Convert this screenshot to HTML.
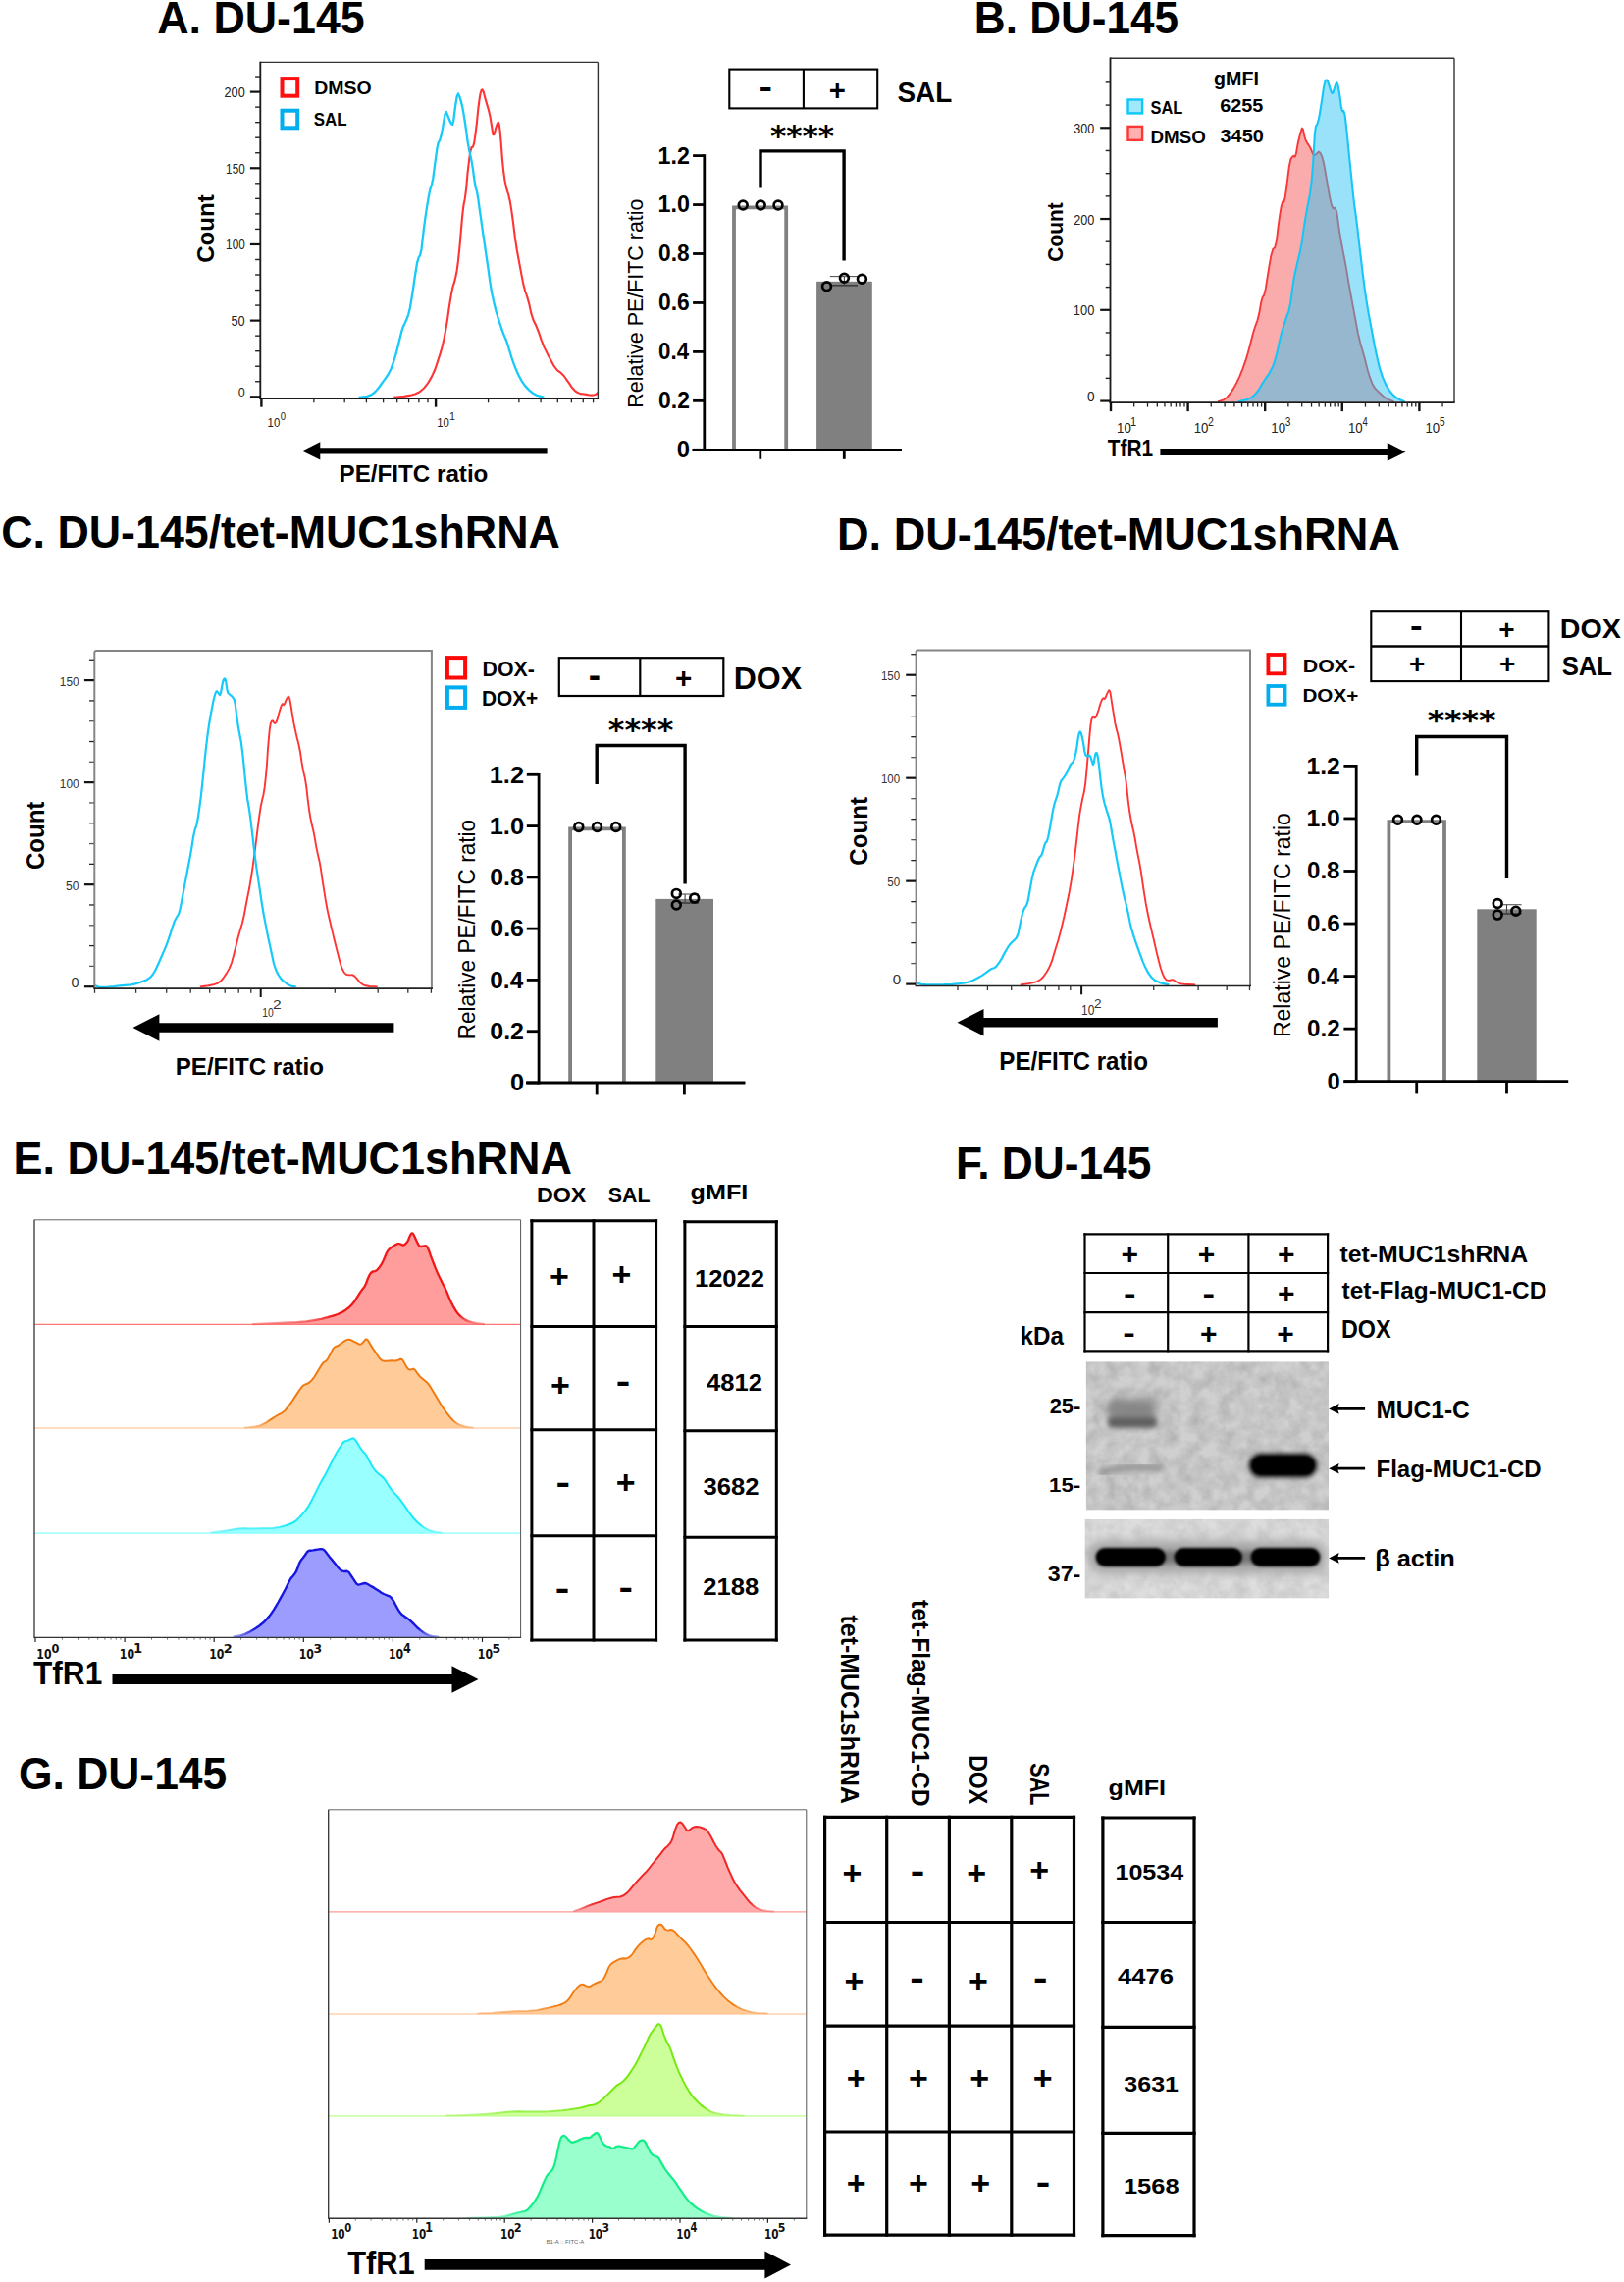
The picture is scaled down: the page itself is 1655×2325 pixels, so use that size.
<!DOCTYPE html>
<html><head><meta charset="utf-8"><title>Figure</title>
<style>html,body{margin:0;padding:0;background:#fff}svg{display:block}text{white-space:pre}</style></head>
<body><svg width="1655" height="2325" viewBox="0 0 1655 2325">
<rect width="1655" height="2325" fill="#fff"/>
<text transform="translate(160.18 33.90) scale(0.9624 1)" font-family='"Liberation Sans", sans-serif' font-weight="bold" font-size="46.55" fill="#000">A. DU-145</text>
<text transform="translate(992.83 33.90) scale(0.9467 1)" font-family='"Liberation Sans", sans-serif' font-weight="bold" font-size="46.55" fill="#000">B. DU-145</text>
<text transform="translate(1.21 557.50) scale(0.9803 1)" font-family='"Liberation Sans", sans-serif' font-weight="bold" font-size="45.67" fill="#000">C. DU-145/tet-MUC1shRNA</text>
<text transform="translate(853.06 560.10) scale(0.9876 1)" font-family='"Liberation Sans", sans-serif' font-weight="bold" font-size="45.67" fill="#000">D. DU-145/tet-MUC1shRNA</text>
<text transform="translate(13.57 1196.20) scale(0.9843 1)" font-family='"Liberation Sans", sans-serif' font-weight="bold" font-size="45.67" fill="#000">E. DU-145/tet-MUC1shRNA</text>
<text transform="translate(974.01 1201.20) scale(0.9575 1)" font-family='"Liberation Sans", sans-serif' font-weight="bold" font-size="46.25" fill="#000">F. DU-145</text>
<text transform="translate(18.92 1822.70) scale(0.9547 1)" font-family='"Liberation Sans", sans-serif' font-weight="bold" font-size="46.55" fill="#000">G. DU-145</text>
<path d="M401.3 404.9 L404.7 404.6 L411.5 403.9 L417.6 402.9 L423.0 401.5 L427.7 399.2 L431.8 395.8 L435.9 390.7 L439.9 383.9 L443.3 376.5 L446.0 368.3 L448.4 360.9 L450.4 354.1 L452.5 345.3 L454.5 334.5 L456.2 324.3 L457.5 314.8 L458.9 306.0 L460.3 297.9 L461.6 291.8 L463.0 287.7 L464.3 282.3 L465.7 275.5 L467.0 265.4 L468.4 251.8 L469.7 236.9 L471.1 220.7 L472.4 209.2 L473.8 202.4 L475.2 191.6 L476.5 176.7 L477.9 164.5 L479.2 155.0 L480.6 150.1 L481.9 149.8 L483.3 145.1 L484.6 135.9 L486.0 124.5 L487.3 111.0 L488.6 101.1 L489.6 95.0 L490.7 91.8 L491.6 91.4 L492.8 93.8 L494.1 98.9 L495.8 104.9 L497.8 111.6 L499.4 118.4 L500.5 125.2 L501.5 131.4 L502.4 137.1 L503.6 137.1 L505.0 131.4 L506.3 127.2 L507.7 124.5 L508.8 127.2 L509.8 135.3 L510.8 146.9 L511.9 161.8 L513.1 174.0 L514.4 183.4 L516.1 191.6 L518.2 198.3 L519.9 205.8 L521.2 213.9 L522.9 226.1 L524.9 242.4 L527.0 255.9 L529.0 266.7 L531.0 277.6 L533.1 288.4 L535.1 296.5 L537.1 302.0 L539.2 309.4 L541.2 318.9 L543.6 326.3 L546.3 331.8 L549.0 338.5 L551.7 346.7 L554.7 354.1 L558.1 360.9 L561.5 367.3 L564.9 373.4 L568.3 377.6 L571.7 379.9 L574.7 383.0 L577.4 386.8 L580.1 390.7 L582.8 394.8 L585.6 397.8 L588.3 399.8 L591.3 401.1 L594.7 401.5 L597.7 401.9 L600.5 402.5 L603.2 402.6 L605.9 402.3 L607.8 401.5 L608.9 400.2 L609.4 399.5" fill="none" stroke="#ff3434" stroke-width="2.1" stroke-linejoin="round" />
<path d="M365.6 404.9 L368.4 404.6 L374.1 403.9 L378.6 402.2 L382.0 399.5 L385.4 395.8 L388.8 391.0 L392.2 386.3 L395.6 381.5 L398.6 375.5 L401.3 368.0 L403.7 360.2 L405.7 352.1 L407.6 344.6 L409.2 337.9 L410.9 332.8 L412.6 329.4 L414.4 325.3 L416.2 320.6 L417.9 313.5 L419.5 304.0 L421.0 294.5 L422.3 285.0 L423.7 276.2 L425.0 268.1 L426.5 262.7 L428.1 260.0 L429.5 253.9 L430.6 244.4 L431.8 234.2 L433.2 223.4 L434.9 211.9 L436.9 199.7 L438.6 191.9 L439.9 188.5 L441.3 181.7 L442.6 171.6 L444.0 161.4 L445.4 151.3 L446.7 145.2 L448.1 143.1 L449.4 138.7 L450.8 132.0 L452.1 124.5 L453.5 116.4 L454.8 114.0 L456.2 117.4 L457.5 120.8 L458.9 124.2 L460.1 126.2 L461.2 126.9 L462.2 123.2 L463.2 115.0 L464.3 106.7 L465.7 98.2 L467.0 95.4 L468.4 98.6 L469.7 102.8 L471.1 108.2 L472.4 115.4 L473.8 124.2 L475.2 133.6 L476.5 143.8 L478.2 153.3 L480.2 162.1 L481.9 171.9 L483.3 182.8 L484.6 190.5 L486.0 195.3 L487.3 202.7 L488.7 212.9 L490.1 222.7 L491.4 232.2 L493.1 243.7 L495.1 257.3 L497.2 271.5 L499.2 286.4 L501.2 298.6 L503.3 308.1 L505.3 316.2 L507.3 323.0 L509.4 329.4 L511.4 335.5 L513.4 340.9 L515.5 345.7 L517.5 351.4 L519.5 358.2 L521.5 364.6 L523.6 370.7 L526.0 376.8 L528.7 382.9 L531.7 388.3 L535.1 393.1 L538.8 397.1 L542.9 400.5 L547.3 402.9 L552.0 404.2 L554.4 404.9" fill="none" stroke="#16cafa" stroke-width="2.3" stroke-linejoin="round" />
<line x1="265.30" y1="63.40" x2="609.40" y2="63.40" stroke="#333" stroke-width="1.4" stroke-linecap="butt"/>
<line x1="609.40" y1="63.40" x2="609.40" y2="406.10" stroke="#333" stroke-width="1.4" stroke-linecap="butt"/>
<line x1="265.30" y1="62.70" x2="265.30" y2="407.00" stroke="#1a1a1a" stroke-width="1.85" stroke-linecap="butt"/>
<line x1="264.40" y1="406.10" x2="610.10" y2="406.10" stroke="#1a1a1a" stroke-width="1.85" stroke-linecap="butt"/>
<line x1="254.90" y1="404.30" x2="265.30" y2="404.30" stroke="#111" stroke-width="2.2" stroke-linecap="butt"/>
<line x1="260.10" y1="388.76" x2="265.30" y2="388.76" stroke="#222" stroke-width="1.4" stroke-linecap="butt"/>
<line x1="260.10" y1="373.23" x2="265.30" y2="373.23" stroke="#222" stroke-width="1.4" stroke-linecap="butt"/>
<line x1="260.10" y1="357.69" x2="265.30" y2="357.69" stroke="#222" stroke-width="1.4" stroke-linecap="butt"/>
<line x1="260.10" y1="342.16" x2="265.30" y2="342.16" stroke="#222" stroke-width="1.4" stroke-linecap="butt"/>
<line x1="254.90" y1="326.62" x2="265.30" y2="326.62" stroke="#111" stroke-width="2.2" stroke-linecap="butt"/>
<line x1="260.10" y1="311.09" x2="265.30" y2="311.09" stroke="#222" stroke-width="1.4" stroke-linecap="butt"/>
<line x1="260.10" y1="295.56" x2="265.30" y2="295.56" stroke="#222" stroke-width="1.4" stroke-linecap="butt"/>
<line x1="260.10" y1="280.02" x2="265.30" y2="280.02" stroke="#222" stroke-width="1.4" stroke-linecap="butt"/>
<line x1="260.10" y1="264.49" x2="265.30" y2="264.49" stroke="#222" stroke-width="1.4" stroke-linecap="butt"/>
<line x1="254.90" y1="248.95" x2="265.30" y2="248.95" stroke="#111" stroke-width="2.2" stroke-linecap="butt"/>
<line x1="260.10" y1="233.42" x2="265.30" y2="233.42" stroke="#222" stroke-width="1.4" stroke-linecap="butt"/>
<line x1="260.10" y1="217.88" x2="265.30" y2="217.88" stroke="#222" stroke-width="1.4" stroke-linecap="butt"/>
<line x1="260.10" y1="202.34" x2="265.30" y2="202.34" stroke="#222" stroke-width="1.4" stroke-linecap="butt"/>
<line x1="260.10" y1="186.81" x2="265.30" y2="186.81" stroke="#222" stroke-width="1.4" stroke-linecap="butt"/>
<line x1="254.90" y1="171.28" x2="265.30" y2="171.28" stroke="#111" stroke-width="2.2" stroke-linecap="butt"/>
<line x1="260.10" y1="155.74" x2="265.30" y2="155.74" stroke="#222" stroke-width="1.4" stroke-linecap="butt"/>
<line x1="260.10" y1="140.20" x2="265.30" y2="140.20" stroke="#222" stroke-width="1.4" stroke-linecap="butt"/>
<line x1="260.10" y1="124.67" x2="265.30" y2="124.67" stroke="#222" stroke-width="1.4" stroke-linecap="butt"/>
<line x1="260.10" y1="109.13" x2="265.30" y2="109.13" stroke="#222" stroke-width="1.4" stroke-linecap="butt"/>
<line x1="254.90" y1="93.60" x2="265.30" y2="93.60" stroke="#111" stroke-width="2.2" stroke-linecap="butt"/>
<line x1="260.10" y1="78.06" x2="265.30" y2="78.06" stroke="#222" stroke-width="1.4" stroke-linecap="butt"/>
<text transform="translate(228.57 99.06) scale(0.8956 1)" font-family='"Liberation Sans", sans-serif' font-weight="normal" font-size="14.13" fill="#222">200</text>
<text transform="translate(230.12 176.73) scale(0.8281 1)" font-family='"Liberation Sans", sans-serif' font-weight="normal" font-size="14.13" fill="#222">150</text>
<text transform="translate(230.12 254.41) scale(0.8281 1)" font-family='"Liberation Sans", sans-serif' font-weight="normal" font-size="14.13" fill="#222">100</text>
<text transform="translate(235.49 332.08) scale(0.9045 1)" font-family='"Liberation Sans", sans-serif' font-weight="normal" font-size="14.13" fill="#222">50</text>
<text transform="translate(242.70 404.48) scale(1.0583 1)" font-family='"Liberation Sans", sans-serif' font-weight="normal" font-size="11.87" fill="#222">0</text>
<line x1="266.40" y1="406.10" x2="266.40" y2="414.70" stroke="#111" stroke-width="2.4" stroke-linecap="butt"/>
<line x1="319.89" y1="406.10" x2="319.89" y2="410.30" stroke="#222" stroke-width="1.3" stroke-linecap="butt"/>
<line x1="351.18" y1="406.10" x2="351.18" y2="410.30" stroke="#222" stroke-width="1.3" stroke-linecap="butt"/>
<line x1="373.39" y1="406.10" x2="373.39" y2="410.30" stroke="#222" stroke-width="1.3" stroke-linecap="butt"/>
<line x1="390.61" y1="406.10" x2="390.61" y2="410.30" stroke="#222" stroke-width="1.3" stroke-linecap="butt"/>
<line x1="404.68" y1="406.10" x2="404.68" y2="410.30" stroke="#222" stroke-width="1.3" stroke-linecap="butt"/>
<line x1="416.57" y1="406.10" x2="416.57" y2="410.30" stroke="#222" stroke-width="1.3" stroke-linecap="butt"/>
<line x1="426.88" y1="406.10" x2="426.88" y2="410.30" stroke="#222" stroke-width="1.3" stroke-linecap="butt"/>
<line x1="435.97" y1="406.10" x2="435.97" y2="410.30" stroke="#222" stroke-width="1.3" stroke-linecap="butt"/>
<line x1="444.10" y1="406.10" x2="444.10" y2="414.70" stroke="#111" stroke-width="2.4" stroke-linecap="butt"/>
<line x1="497.59" y1="406.10" x2="497.59" y2="410.30" stroke="#222" stroke-width="1.3" stroke-linecap="butt"/>
<line x1="528.88" y1="406.10" x2="528.88" y2="410.30" stroke="#222" stroke-width="1.3" stroke-linecap="butt"/>
<line x1="551.09" y1="406.10" x2="551.09" y2="410.30" stroke="#222" stroke-width="1.3" stroke-linecap="butt"/>
<line x1="568.31" y1="406.10" x2="568.31" y2="410.30" stroke="#222" stroke-width="1.3" stroke-linecap="butt"/>
<line x1="582.38" y1="406.10" x2="582.38" y2="410.30" stroke="#222" stroke-width="1.3" stroke-linecap="butt"/>
<line x1="594.27" y1="406.10" x2="594.27" y2="410.30" stroke="#222" stroke-width="1.3" stroke-linecap="butt"/>
<line x1="604.58" y1="406.10" x2="604.58" y2="410.30" stroke="#222" stroke-width="1.3" stroke-linecap="butt"/>
<text transform="translate(272.54 435.37) scale(0.8984 1)" font-family='"Liberation Sans", sans-serif' font-weight="normal" font-size="12.72" fill="#222">10</text>
<text transform="translate(285.81 428.09) scale(0.8968 1)" font-family='"Liberation Sans", sans-serif' font-weight="normal" font-size="10.74" fill="#222">0</text>
<text transform="translate(445.24 435.37) scale(0.8984 1)" font-family='"Liberation Sans", sans-serif' font-weight="normal" font-size="12.72" fill="#222">10</text>
<text transform="translate(458.10 428.20) scale(0.9621 1)" font-family='"Liberation Sans", sans-serif' font-weight="normal" font-size="11.05" fill="#222">1</text>
<path d="M557.6 456.2 L326.3 456.2 L326.3 450.2 L307.9 459.4 L326.3 468.6 L326.3 462.6 L557.6 462.6Z" fill="#000"/>
<text transform="translate(345.57 490.90) scale(0.9782 1)" font-family='"Liberation Sans", sans-serif' font-weight="bold" font-size="24.73" fill="#000">PE/FITC ratio</text>
<text transform="translate(218.27 267.76) rotate(-90) scale(1.0330 1)" font-family='"Liberation Sans", sans-serif' font-weight="bold" font-size="23.32" fill="#000">Count</text>
<rect x="287.50" y="80.10" width="15.70" height="17.60" fill="none" stroke="#ff1010" stroke-width="4" />
<rect x="287.50" y="112.70" width="15.70" height="17.60" fill="none" stroke="#00adef" stroke-width="4" />
<text transform="translate(320.29 96.41) scale(1.0134 1)" font-family='"Liberation Sans", sans-serif' font-weight="bold" font-size="19.22" fill="#000">DMSO</text>
<text transform="translate(319.79 127.91) scale(0.9021 1)" font-family='"Liberation Sans", sans-serif' font-weight="bold" font-size="18.80" fill="#000">SAL</text>
<path d="M748.00 458.30 V211.40 H801.20 V458.30" fill="#fff" stroke="#808080" stroke-width="3.8"/>
<rect x="832.10" y="286.80" width="56.70" height="171.50" fill="#808080" stroke="none" stroke-width="1" />
<line x1="845.90" y1="281.60" x2="874.00" y2="281.60" stroke="#555" stroke-width="1.1" stroke-linecap="butt"/>
<line x1="845.90" y1="290.80" x2="874.00" y2="290.80" stroke="#333" stroke-width="1.4" stroke-linecap="butt"/>
<line x1="860.40" y1="281.60" x2="860.40" y2="290.80" stroke="#444" stroke-width="1.1" stroke-linecap="butt"/>
<line x1="717.80" y1="157.20" x2="717.80" y2="459.70" stroke="#000" stroke-width="2.8" stroke-linecap="butt"/>
<line x1="705.40" y1="458.30" x2="919.00" y2="458.30" stroke="#000" stroke-width="2.8" stroke-linecap="butt"/>
<line x1="706.10" y1="458.30" x2="717.80" y2="458.30" stroke="#000" stroke-width="2.8" stroke-linecap="butt"/>
<text transform="translate(689.75 466.22) scale(1.0326 1)" font-family='"Liberation Sans", sans-serif' font-weight="bold" font-size="23.04" fill="#000">0</text>
<line x1="706.10" y1="408.35" x2="717.80" y2="408.35" stroke="#000" stroke-width="2.8" stroke-linecap="butt"/>
<text transform="translate(671.09 416.27) scale(0.9921 1)" font-family='"Liberation Sans", sans-serif' font-weight="bold" font-size="23.04" fill="#000">0.2</text>
<line x1="706.10" y1="358.40" x2="717.80" y2="358.40" stroke="#000" stroke-width="2.8" stroke-linecap="butt"/>
<text transform="translate(671.11 366.32) scale(0.9681 1)" font-family='"Liberation Sans", sans-serif' font-weight="bold" font-size="23.04" fill="#000">0.4</text>
<line x1="706.10" y1="308.45" x2="717.80" y2="308.45" stroke="#000" stroke-width="2.8" stroke-linecap="butt"/>
<text transform="translate(671.09 316.37) scale(0.9902 1)" font-family='"Liberation Sans", sans-serif' font-weight="bold" font-size="23.04" fill="#000">0.6</text>
<line x1="706.10" y1="258.50" x2="717.80" y2="258.50" stroke="#000" stroke-width="2.8" stroke-linecap="butt"/>
<text transform="translate(671.09 266.42) scale(0.9865 1)" font-family='"Liberation Sans", sans-serif' font-weight="bold" font-size="23.04" fill="#000">0.8</text>
<line x1="706.10" y1="208.55" x2="717.80" y2="208.55" stroke="#000" stroke-width="2.8" stroke-linecap="butt"/>
<text transform="translate(670.54 216.47) scale(1.0114 1)" font-family='"Liberation Sans", sans-serif' font-weight="bold" font-size="23.04" fill="#000">1.0</text>
<line x1="706.10" y1="158.60" x2="717.80" y2="158.60" stroke="#000" stroke-width="2.8" stroke-linecap="butt"/>
<text transform="translate(670.55 166.75) scale(0.9951 1)" font-family='"Liberation Sans", sans-serif' font-weight="bold" font-size="23.37" fill="#000">1.2</text>
<line x1="774.80" y1="458.30" x2="774.80" y2="467.80" stroke="#000" stroke-width="2.8" stroke-linecap="butt"/>
<line x1="860.30" y1="458.30" x2="860.30" y2="467.80" stroke="#000" stroke-width="2.8" stroke-linecap="butt"/>
<path d="M775.00 191.60 V153.90 H860.10 V265.50" fill="none" stroke="#000" stroke-width="3.4" stroke-linejoin="miter"/>
<circle cx="757.20" cy="209.00" r="4.4" fill="none" stroke="#000" stroke-width="2.7"/>
<circle cx="775.20" cy="209.00" r="4.4" fill="none" stroke="#000" stroke-width="2.7"/>
<circle cx="793.00" cy="209.00" r="4.4" fill="none" stroke="#000" stroke-width="2.7"/>
<circle cx="842.50" cy="291.80" r="4.4" fill="none" stroke="#000" stroke-width="2.7"/>
<circle cx="860.40" cy="283.20" r="4.4" fill="none" stroke="#000" stroke-width="2.7"/>
<circle cx="878.40" cy="284.20" r="4.4" fill="none" stroke="#000" stroke-width="2.7"/>
<text transform="translate(784.88 148.97) scale(1.0227 1)" font-family='"DejaVu Sans", sans-serif' font-weight="bold" font-size="30.54" fill="#000">****</text>
<text transform="translate(655.37 415.67) rotate(-90) scale(0.9322 1)" font-family='"Liberation Sans", sans-serif' font-weight="normal" font-size="22.99" fill="#000">Relative PE/FITC ratio</text>
<rect x="743.30" y="70.60" width="150.90" height="39.80" fill="none" stroke="#000" stroke-width="2.1" />
<line x1="818.90" y1="70.60" x2="818.90" y2="110.40" stroke="#000" stroke-width="2.1" stroke-linecap="butt"/>
<text transform="translate(773.58 99.67) scale(1.2119 1)" font-family='"Liberation Sans", sans-serif' font-weight="bold" font-size="33.33" fill="#000">-</text>
<text transform="translate(844.76 102.32) scale(1.0200 1)" font-family='"Liberation Sans", sans-serif' font-weight="bold" font-size="28.63" fill="#000">+</text>
<text transform="translate(914.46 104.00) scale(0.9177 1)" font-family='"Liberation Sans", sans-serif' font-weight="bold" font-size="30.39" fill="#000">SAL</text>
<path d="M1241.0 409.2 L1243.0 408.6 L1247.0 407.3 L1250.6 404.7 L1253.8 400.7 L1257.0 395.9 L1260.2 390.2 L1263.4 383.4 L1266.6 375.4 L1269.4 367.4 L1271.8 359.4 L1274.2 350.6 L1276.6 341.0 L1279.0 333.0 L1281.4 326.6 L1283.4 318.6 L1285.0 309.0 L1286.6 303.0 L1288.2 300.6 L1289.8 294.2 L1291.4 283.8 L1293.2 272.6 L1295.3 260.6 L1297.3 253.8 L1299.2 252.2 L1301.0 244.6 L1302.6 230.9 L1304.2 219.3 L1305.8 209.7 L1307.2 205.3 L1308.3 206.1 L1309.5 202.1 L1310.8 193.3 L1312.2 182.5 L1313.8 169.7 L1315.4 162.1 L1317.0 159.7 L1318.5 158.9 L1319.7 159.7 L1320.9 156.5 L1322.1 149.3 L1323.3 143.3 L1324.5 138.5 L1325.7 134.2 L1326.9 130.6 L1328.0 131.8 L1329.1 137.8 L1330.3 142.1 L1331.6 144.5 L1333.0 146.9 L1334.6 149.3 L1336.2 152.5 L1337.8 156.5 L1339.4 158.1 L1341.0 157.3 L1342.5 156.1 L1343.8 154.5 L1345.4 155.7 L1347.3 159.7 L1349.0 166.1 L1350.6 174.9 L1352.2 184.1 L1353.8 193.7 L1355.4 202.1 L1357.0 209.3 L1358.8 212.5 L1360.7 211.7 L1362.3 216.1 L1363.6 225.7 L1365.0 235.4 L1366.6 245.0 L1368.4 254.6 L1370.3 264.2 L1372.3 275.4 L1374.4 288.2 L1376.7 301.0 L1379.1 313.8 L1381.5 326.6 L1383.9 339.4 L1386.3 349.8 L1388.7 357.8 L1391.1 366.6 L1393.5 376.2 L1395.9 384.2 L1398.3 390.7 L1401.1 395.5 L1404.3 398.7 L1407.5 401.7 L1410.7 404.6 L1414.3 406.8 L1418.3 408.4 L1420.3 409.2Z" fill="#f23a3a" stroke="none" stroke-width="1" stroke-linejoin="round" fill-opacity="0.42"/>
<path d="M1241.0 409.2 L1243.0 408.6 L1247.0 407.3 L1250.6 404.7 L1253.8 400.7 L1257.0 395.9 L1260.2 390.2 L1263.4 383.4 L1266.6 375.4 L1269.4 367.4 L1271.8 359.4 L1274.2 350.6 L1276.6 341.0 L1279.0 333.0 L1281.4 326.6 L1283.4 318.6 L1285.0 309.0 L1286.6 303.0 L1288.2 300.6 L1289.8 294.2 L1291.4 283.8 L1293.2 272.6 L1295.3 260.6 L1297.3 253.8 L1299.2 252.2 L1301.0 244.6 L1302.6 230.9 L1304.2 219.3 L1305.8 209.7 L1307.2 205.3 L1308.3 206.1 L1309.5 202.1 L1310.8 193.3 L1312.2 182.5 L1313.8 169.7 L1315.4 162.1 L1317.0 159.7 L1318.5 158.9 L1319.7 159.7 L1320.9 156.5 L1322.1 149.3 L1323.3 143.3 L1324.5 138.5 L1325.7 134.2 L1326.9 130.6 L1328.0 131.8 L1329.1 137.8 L1330.3 142.1 L1331.6 144.5 L1333.0 146.9 L1334.6 149.3 L1336.2 152.5 L1337.8 156.5 L1339.4 158.1 L1341.0 157.3 L1342.5 156.1 L1343.8 154.5 L1345.4 155.7 L1347.3 159.7 L1349.0 166.1 L1350.6 174.9 L1352.2 184.1 L1353.8 193.7 L1355.4 202.1 L1357.0 209.3 L1358.8 212.5 L1360.7 211.7 L1362.3 216.1 L1363.6 225.7 L1365.0 235.4 L1366.6 245.0 L1368.4 254.6 L1370.3 264.2 L1372.3 275.4 L1374.4 288.2 L1376.7 301.0 L1379.1 313.8 L1381.5 326.6 L1383.9 339.4 L1386.3 349.8 L1388.7 357.8 L1391.1 366.6 L1393.5 376.2 L1395.9 384.2 L1398.3 390.7 L1401.1 395.5 L1404.3 398.7 L1407.5 401.7 L1410.7 404.6 L1414.3 406.8 L1418.3 408.4 L1420.3 409.2" fill="none" stroke="#f83838" stroke-width="1.9" stroke-linejoin="round" />
<path d="M1261.8 409.2 L1264.6 408.6 L1270.2 407.3 L1275.0 405.1 L1279.0 401.9 L1282.6 397.5 L1285.8 391.9 L1289.4 386.2 L1293.4 380.6 L1296.6 374.6 L1299.0 368.2 L1301.4 359.4 L1303.8 348.2 L1306.2 338.6 L1308.6 330.6 L1311.0 323.4 L1313.4 317.0 L1315.4 307.4 L1317.0 294.6 L1318.6 284.2 L1320.2 276.2 L1322.2 267.4 L1324.6 257.8 L1326.6 247.4 L1328.2 236.2 L1329.8 225.7 L1331.4 216.1 L1333.2 206.5 L1335.1 196.9 L1336.7 184.1 L1338.0 168.1 L1339.0 152.5 L1339.8 137.3 L1341.0 128.5 L1342.6 126.1 L1344.2 120.1 L1345.8 110.5 L1347.4 100.1 L1349.0 88.9 L1350.5 82.6 L1351.8 81.3 L1353.1 82.9 L1354.6 87.4 L1355.9 91.4 L1357.2 94.9 L1358.5 94.5 L1359.8 90.2 L1361.0 86.7 L1362.1 84.0 L1363.3 86.0 L1364.6 92.7 L1365.8 100.5 L1366.9 109.3 L1368.1 113.4 L1369.4 113.0 L1370.6 117.4 L1371.7 126.6 L1372.8 136.9 L1373.9 148.1 L1375.1 160.1 L1376.4 172.9 L1377.7 185.7 L1379.0 198.5 L1380.4 210.5 L1382.0 221.7 L1383.6 234.6 L1385.2 249.0 L1387.0 264.2 L1388.9 280.2 L1390.8 294.6 L1392.7 307.4 L1394.7 319.4 L1396.8 330.6 L1398.9 341.8 L1401.0 353.0 L1403.4 364.2 L1406.1 375.4 L1409.1 384.6 L1412.3 391.9 L1415.9 397.9 L1419.9 402.7 L1424.3 406.1 L1429.1 408.2 L1431.5 409.2Z" fill="#2cc3f2" stroke="none" stroke-width="1" stroke-linejoin="round" fill-opacity="0.48"/>
<path d="M1261.8 409.2 L1264.6 408.6 L1270.2 407.3 L1275.0 405.1 L1279.0 401.9 L1282.6 397.5 L1285.8 391.9 L1289.4 386.2 L1293.4 380.6 L1296.6 374.6 L1299.0 368.2 L1301.4 359.4 L1303.8 348.2 L1306.2 338.6 L1308.6 330.6 L1311.0 323.4 L1313.4 317.0 L1315.4 307.4 L1317.0 294.6 L1318.6 284.2 L1320.2 276.2 L1322.2 267.4 L1324.6 257.8 L1326.6 247.4 L1328.2 236.2 L1329.8 225.7 L1331.4 216.1 L1333.2 206.5 L1335.1 196.9 L1336.7 184.1 L1338.0 168.1 L1339.0 152.5 L1339.8 137.3 L1341.0 128.5 L1342.6 126.1 L1344.2 120.1 L1345.8 110.5 L1347.4 100.1 L1349.0 88.9 L1350.5 82.6 L1351.8 81.3 L1353.1 82.9 L1354.6 87.4 L1355.9 91.4 L1357.2 94.9 L1358.5 94.5 L1359.8 90.2 L1361.0 86.7 L1362.1 84.0 L1363.3 86.0 L1364.6 92.7 L1365.8 100.5 L1366.9 109.3 L1368.1 113.4 L1369.4 113.0 L1370.6 117.4 L1371.7 126.6 L1372.8 136.9 L1373.9 148.1 L1375.1 160.1 L1376.4 172.9 L1377.7 185.7 L1379.0 198.5 L1380.4 210.5 L1382.0 221.7 L1383.6 234.6 L1385.2 249.0 L1387.0 264.2 L1388.9 280.2 L1390.8 294.6 L1392.7 307.4 L1394.7 319.4 L1396.8 330.6 L1398.9 341.8 L1401.0 353.0 L1403.4 364.2 L1406.1 375.4 L1409.1 384.6 L1412.3 391.9 L1415.9 397.9 L1419.9 402.7 L1424.3 406.1 L1429.1 408.2 L1431.5 409.2" fill="none" stroke="#16c6f8" stroke-width="2.1" stroke-linejoin="round" />
<line x1="1131.50" y1="59.20" x2="1482.00" y2="59.20" stroke="#333" stroke-width="1.4" stroke-linecap="butt"/>
<line x1="1482.00" y1="59.20" x2="1482.00" y2="410.10" stroke="#333" stroke-width="1.4" stroke-linecap="butt"/>
<line x1="1131.50" y1="58.50" x2="1131.50" y2="411.00" stroke="#1a1a1a" stroke-width="1.85" stroke-linecap="butt"/>
<line x1="1130.60" y1="410.10" x2="1482.70" y2="410.10" stroke="#1a1a1a" stroke-width="1.85" stroke-linecap="butt"/>
<line x1="1121.20" y1="408.55" x2="1131.50" y2="408.55" stroke="#111" stroke-width="2.2" stroke-linecap="butt"/>
<line x1="1126.70" y1="385.36" x2="1131.50" y2="385.36" stroke="#222" stroke-width="1.4" stroke-linecap="butt"/>
<line x1="1126.70" y1="362.17" x2="1131.50" y2="362.17" stroke="#222" stroke-width="1.4" stroke-linecap="butt"/>
<line x1="1126.70" y1="338.98" x2="1131.50" y2="338.98" stroke="#222" stroke-width="1.4" stroke-linecap="butt"/>
<line x1="1121.20" y1="315.79" x2="1131.50" y2="315.79" stroke="#111" stroke-width="2.2" stroke-linecap="butt"/>
<line x1="1126.70" y1="292.60" x2="1131.50" y2="292.60" stroke="#222" stroke-width="1.4" stroke-linecap="butt"/>
<line x1="1126.70" y1="269.41" x2="1131.50" y2="269.41" stroke="#222" stroke-width="1.4" stroke-linecap="butt"/>
<line x1="1126.70" y1="246.22" x2="1131.50" y2="246.22" stroke="#222" stroke-width="1.4" stroke-linecap="butt"/>
<line x1="1121.20" y1="223.03" x2="1131.50" y2="223.03" stroke="#111" stroke-width="2.2" stroke-linecap="butt"/>
<line x1="1126.70" y1="199.84" x2="1131.50" y2="199.84" stroke="#222" stroke-width="1.4" stroke-linecap="butt"/>
<line x1="1126.70" y1="176.65" x2="1131.50" y2="176.65" stroke="#222" stroke-width="1.4" stroke-linecap="butt"/>
<line x1="1126.70" y1="153.46" x2="1131.50" y2="153.46" stroke="#222" stroke-width="1.4" stroke-linecap="butt"/>
<line x1="1121.20" y1="130.27" x2="1131.50" y2="130.27" stroke="#111" stroke-width="2.2" stroke-linecap="butt"/>
<line x1="1126.70" y1="107.08" x2="1131.50" y2="107.08" stroke="#222" stroke-width="1.4" stroke-linecap="butt"/>
<line x1="1126.70" y1="83.89" x2="1131.50" y2="83.89" stroke="#222" stroke-width="1.4" stroke-linecap="butt"/>
<text transform="translate(1094.33 135.93) scale(0.8797 1)" font-family='"Liberation Sans", sans-serif' font-weight="normal" font-size="14.28" fill="#222">300</text>
<text transform="translate(1094.17 228.69) scale(0.8867 1)" font-family='"Liberation Sans", sans-serif' font-weight="normal" font-size="14.28" fill="#222">200</text>
<text transform="translate(1093.84 321.45) scale(0.9010 1)" font-family='"Liberation Sans", sans-serif' font-weight="normal" font-size="14.28" fill="#222">100</text>
<text transform="translate(1107.96 408.55) scale(0.9350 1)" font-family='"Liberation Sans", sans-serif' font-weight="normal" font-size="14.56" fill="#222">0</text>
<line x1="1132.00" y1="410.10" x2="1132.00" y2="419.10" stroke="#111" stroke-width="2.4" stroke-linecap="butt"/>
<line x1="1155.66" y1="410.10" x2="1155.66" y2="414.60" stroke="#222" stroke-width="1.3" stroke-linecap="butt"/>
<line x1="1169.50" y1="410.10" x2="1169.50" y2="414.60" stroke="#222" stroke-width="1.3" stroke-linecap="butt"/>
<line x1="1179.32" y1="410.10" x2="1179.32" y2="414.60" stroke="#222" stroke-width="1.3" stroke-linecap="butt"/>
<line x1="1186.94" y1="410.10" x2="1186.94" y2="414.60" stroke="#222" stroke-width="1.3" stroke-linecap="butt"/>
<line x1="1193.16" y1="410.10" x2="1193.16" y2="414.60" stroke="#222" stroke-width="1.3" stroke-linecap="butt"/>
<line x1="1198.42" y1="410.10" x2="1198.42" y2="414.60" stroke="#222" stroke-width="1.3" stroke-linecap="butt"/>
<line x1="1202.98" y1="410.10" x2="1202.98" y2="414.60" stroke="#222" stroke-width="1.3" stroke-linecap="butt"/>
<line x1="1207.00" y1="410.10" x2="1207.00" y2="414.60" stroke="#222" stroke-width="1.3" stroke-linecap="butt"/>
<line x1="1210.60" y1="410.10" x2="1210.60" y2="419.10" stroke="#111" stroke-width="2.4" stroke-linecap="butt"/>
<line x1="1234.26" y1="410.10" x2="1234.26" y2="414.60" stroke="#222" stroke-width="1.3" stroke-linecap="butt"/>
<line x1="1248.10" y1="410.10" x2="1248.10" y2="414.60" stroke="#222" stroke-width="1.3" stroke-linecap="butt"/>
<line x1="1257.92" y1="410.10" x2="1257.92" y2="414.60" stroke="#222" stroke-width="1.3" stroke-linecap="butt"/>
<line x1="1265.54" y1="410.10" x2="1265.54" y2="414.60" stroke="#222" stroke-width="1.3" stroke-linecap="butt"/>
<line x1="1271.76" y1="410.10" x2="1271.76" y2="414.60" stroke="#222" stroke-width="1.3" stroke-linecap="butt"/>
<line x1="1277.02" y1="410.10" x2="1277.02" y2="414.60" stroke="#222" stroke-width="1.3" stroke-linecap="butt"/>
<line x1="1281.58" y1="410.10" x2="1281.58" y2="414.60" stroke="#222" stroke-width="1.3" stroke-linecap="butt"/>
<line x1="1285.60" y1="410.10" x2="1285.60" y2="414.60" stroke="#222" stroke-width="1.3" stroke-linecap="butt"/>
<line x1="1289.20" y1="410.10" x2="1289.20" y2="419.10" stroke="#111" stroke-width="2.4" stroke-linecap="butt"/>
<line x1="1312.86" y1="410.10" x2="1312.86" y2="414.60" stroke="#222" stroke-width="1.3" stroke-linecap="butt"/>
<line x1="1326.70" y1="410.10" x2="1326.70" y2="414.60" stroke="#222" stroke-width="1.3" stroke-linecap="butt"/>
<line x1="1336.52" y1="410.10" x2="1336.52" y2="414.60" stroke="#222" stroke-width="1.3" stroke-linecap="butt"/>
<line x1="1344.14" y1="410.10" x2="1344.14" y2="414.60" stroke="#222" stroke-width="1.3" stroke-linecap="butt"/>
<line x1="1350.36" y1="410.10" x2="1350.36" y2="414.60" stroke="#222" stroke-width="1.3" stroke-linecap="butt"/>
<line x1="1355.62" y1="410.10" x2="1355.62" y2="414.60" stroke="#222" stroke-width="1.3" stroke-linecap="butt"/>
<line x1="1360.18" y1="410.10" x2="1360.18" y2="414.60" stroke="#222" stroke-width="1.3" stroke-linecap="butt"/>
<line x1="1364.20" y1="410.10" x2="1364.20" y2="414.60" stroke="#222" stroke-width="1.3" stroke-linecap="butt"/>
<line x1="1367.80" y1="410.10" x2="1367.80" y2="419.10" stroke="#111" stroke-width="2.4" stroke-linecap="butt"/>
<line x1="1391.46" y1="410.10" x2="1391.46" y2="414.60" stroke="#222" stroke-width="1.3" stroke-linecap="butt"/>
<line x1="1405.30" y1="410.10" x2="1405.30" y2="414.60" stroke="#222" stroke-width="1.3" stroke-linecap="butt"/>
<line x1="1415.12" y1="410.10" x2="1415.12" y2="414.60" stroke="#222" stroke-width="1.3" stroke-linecap="butt"/>
<line x1="1422.74" y1="410.10" x2="1422.74" y2="414.60" stroke="#222" stroke-width="1.3" stroke-linecap="butt"/>
<line x1="1428.96" y1="410.10" x2="1428.96" y2="414.60" stroke="#222" stroke-width="1.3" stroke-linecap="butt"/>
<line x1="1434.22" y1="410.10" x2="1434.22" y2="414.60" stroke="#222" stroke-width="1.3" stroke-linecap="butt"/>
<line x1="1438.78" y1="410.10" x2="1438.78" y2="414.60" stroke="#222" stroke-width="1.3" stroke-linecap="butt"/>
<line x1="1442.80" y1="410.10" x2="1442.80" y2="414.60" stroke="#222" stroke-width="1.3" stroke-linecap="butt"/>
<line x1="1446.40" y1="410.10" x2="1446.40" y2="419.10" stroke="#111" stroke-width="2.4" stroke-linecap="butt"/>
<line x1="1470.06" y1="410.10" x2="1470.06" y2="414.60" stroke="#222" stroke-width="1.3" stroke-linecap="butt"/>
<text transform="translate(1138.11 441.06) scale(0.9179 1)" font-family='"Liberation Sans", sans-serif' font-weight="normal" font-size="14.42" fill="#222">10</text>
<text transform="translate(1152.07 433.90) scale(0.8770 1)" font-family='"Liberation Sans", sans-serif' font-weight="normal" font-size="12.65" fill="#222">1</text>
<text transform="translate(1216.71 441.06) scale(0.9179 1)" font-family='"Liberation Sans", sans-serif' font-weight="normal" font-size="14.42" fill="#222">10</text>
<text transform="translate(1230.97 433.90) scale(0.8458 1)" font-family='"Liberation Sans", sans-serif' font-weight="normal" font-size="12.47" fill="#222">2</text>
<text transform="translate(1295.31 441.06) scale(0.9179 1)" font-family='"Liberation Sans", sans-serif' font-weight="normal" font-size="14.42" fill="#222">10</text>
<text transform="translate(1309.72 433.78) scale(0.8218 1)" font-family='"Liberation Sans", sans-serif' font-weight="normal" font-size="12.30" fill="#222">3</text>
<text transform="translate(1373.91 441.06) scale(0.9179 1)" font-family='"Liberation Sans", sans-serif' font-weight="normal" font-size="14.42" fill="#222">10</text>
<text transform="translate(1388.49 433.90) scale(0.7511 1)" font-family='"Liberation Sans", sans-serif' font-weight="normal" font-size="12.65" fill="#222">4</text>
<text transform="translate(1452.51 441.06) scale(0.9179 1)" font-family='"Liberation Sans", sans-serif' font-weight="normal" font-size="14.42" fill="#222">10</text>
<text transform="translate(1466.90 433.78) scale(0.8102 1)" font-family='"Liberation Sans", sans-serif' font-weight="normal" font-size="12.47" fill="#222">5</text>
<text transform="translate(1128.79 465.00) scale(0.8564 1)" font-family='"Liberation Sans", sans-serif' font-weight="bold" font-size="24.29" fill="#000">TfR1</text>
<path d="M1182.4 456.9 L1413.8 456.9 L1413.8 451.1 L1432.4 460.4 L1413.8 469.7 L1413.8 463.9 L1182.4 463.9Z" fill="#000"/>
<text transform="translate(1082.77 266.64) rotate(-90) scale(0.9249 1)" font-family='"Liberation Sans", sans-serif' font-weight="bold" font-size="22.61" fill="#000">Count</text>
<text transform="translate(1237.01 86.50) scale(0.9334 1)" font-family='"Liberation Sans", sans-serif' font-weight="bold" font-size="21.09" fill="#000">gMFI</text>
<rect x="1149.50" y="101.50" width="14.60" height="13.90" fill="#a0e8fc" stroke="#0ac8fa" stroke-width="2.4" />
<rect x="1149.50" y="128.90" width="14.60" height="13.90" fill="#ffb0b0" stroke="#ff3636" stroke-width="2.4" />
<text transform="translate(1172.51 115.81) scale(0.8590 1)" font-family='"Liberation Sans", sans-serif' font-weight="bold" font-size="19.08" fill="#000">SAL</text>
<text transform="translate(1243.26 114.42) scale(1.0939 1)" font-family='"Liberation Sans", sans-serif' font-weight="bold" font-size="18.09" fill="#000">6255</text>
<text transform="translate(1172.43 146.11)" font-family='"Liberation Sans", sans-serif' font-weight="bold" font-size="18.80" fill="#000">DMSO</text>
<text transform="translate(1243.55 145.48) scale(1.1129 1)" font-family='"Liberation Sans", sans-serif' font-weight="bold" font-size="17.89" fill="#000">3450</text>
<path d="M203.9 1005.4 L206.8 1005.0 L212.4 1004.3 L217.4 1003.3 L221.6 1001.9 L225.2 999.4 L228.0 995.8 L230.9 991.6 L233.7 986.6 L236.2 980.3 L238.3 972.5 L240.4 964.3 L242.5 955.8 L244.7 948.0 L246.8 941.0 L248.8 932.5 L250.6 922.5 L252.4 913.3 L254.1 904.8 L255.8 894.9 L257.5 883.6 L259.0 872.3 L260.5 860.9 L261.9 849.6 L263.3 838.3 L264.6 829.1 L265.7 822.0 L267.0 815.6 L268.4 810.0 L269.7 802.2 L270.8 792.2 L271.9 780.2 L272.8 766.0 L273.8 753.7 L274.8 743.0 L275.9 736.7 L277.0 734.5 L278.2 734.5 L279.3 736.7 L280.4 737.0 L281.6 735.6 L282.8 732.4 L284.0 727.5 L285.4 722.9 L286.8 718.6 L288.0 717.0 L289.0 718.2 L290.1 717.1 L291.2 713.9 L292.5 711.3 L293.9 709.5 L295.2 711.6 L296.3 717.7 L297.3 723.9 L298.3 730.3 L299.5 737.0 L301.0 744.1 L302.6 751.2 L304.4 758.3 L306.1 766.8 L307.5 776.7 L309.0 785.2 L310.7 792.2 L312.3 802.2 L313.7 814.9 L315.1 825.5 L316.5 834.0 L318.0 841.1 L319.4 846.8 L320.8 853.9 L322.2 862.4 L323.8 870.1 L325.5 877.2 L327.0 885.7 L328.4 895.6 L330.1 906.3 L331.9 917.6 L333.7 927.5 L335.6 936.0 L337.4 943.8 L339.1 950.9 L341.0 958.7 L343.1 967.2 L345.1 974.9 L346.9 982.0 L348.8 987.3 L350.8 990.9 L352.9 992.9 L355.2 993.3 L357.3 993.4 L359.3 993.3 L361.2 994.3 L363.1 996.4 L365.0 998.7 L367.2 1001.3 L369.6 1003.1 L372.5 1004.3 L376.6 1005.0 L382.0 1005.3 L384.7 1005.4" fill="none" stroke="#ff3434" stroke-width="1.9" stroke-linejoin="round" />
<path d="M96.3 1004.0 L97.7 1004.5 L100.6 1005.5 L104.8 1005.8 L110.5 1005.5 L116.1 1005.0 L121.8 1004.3 L127.5 1003.8 L133.1 1003.3 L138.1 1002.4 L142.3 1001.0 L146.2 999.6 L149.8 998.2 L153.0 995.9 L155.8 992.8 L158.6 988.0 L161.5 981.7 L164.3 975.3 L167.1 968.9 L169.6 962.9 L171.7 957.2 L173.8 950.9 L176.0 943.8 L177.7 938.8 L179.2 936.0 L180.6 933.5 L182.0 931.4 L183.4 926.8 L184.8 919.7 L186.2 912.3 L187.7 904.5 L189.1 897.1 L190.5 890.0 L192.1 881.5 L194.0 871.6 L195.6 862.0 L197.0 852.8 L198.6 845.7 L200.3 840.8 L201.8 833.3 L203.2 823.4 L204.7 812.1 L206.1 799.3 L207.5 785.9 L208.9 771.7 L210.3 759.0 L211.7 747.6 L213.1 737.7 L214.6 729.2 L216.0 721.4 L217.4 714.4 L218.7 709.0 L219.8 705.5 L220.9 704.2 L221.9 705.2 L222.9 706.5 L224.1 708.1 L225.1 705.8 L226.1 699.7 L227.0 695.2 L227.9 692.4 L228.7 691.3 L229.6 692.0 L230.4 695.6 L231.3 702.0 L232.2 705.7 L233.2 706.8 L234.4 707.9 L235.8 708.9 L237.2 710.5 L238.6 712.6 L239.8 717.9 L240.8 726.4 L241.9 734.2 L243.0 741.3 L244.3 748.3 L245.7 755.4 L247.1 766.0 L248.6 780.2 L249.8 793.0 L251.0 804.3 L252.2 814.2 L253.7 822.7 L255.1 832.6 L256.5 843.9 L257.9 856.0 L259.3 868.7 L260.9 880.8 L262.6 892.1 L264.5 904.8 L266.6 919.0 L268.7 931.8 L270.9 943.1 L273.0 953.7 L275.1 963.6 L277.1 972.8 L278.9 981.3 L281.1 988.0 L283.5 993.0 L286.1 996.9 L288.9 999.7 L291.8 1002.0 L294.6 1003.7 L297.4 1004.8 L300.2 1005.2 L301.7 1005.4" fill="none" stroke="#16cafa" stroke-width="2.2" stroke-linejoin="round" />
<path d="M96.3 1007.2 V665.0 Q96.3 663.0 98.3 663.0 H439.9 V1007.2" fill="none" stroke="#858585" stroke-width="2"/>
<line x1="95.30" y1="1007.20" x2="440.90" y2="1007.20" stroke="#222" stroke-width="1.7" stroke-linecap="butt"/>
<line x1="85.90" y1="1005.20" x2="95.80" y2="1005.20" stroke="#111" stroke-width="2.2" stroke-linecap="butt"/>
<line x1="91.00" y1="984.39" x2="95.80" y2="984.39" stroke="#555" stroke-width="1.3" stroke-linecap="butt"/>
<line x1="91.00" y1="963.59" x2="95.80" y2="963.59" stroke="#222" stroke-width="1.3" stroke-linecap="butt"/>
<line x1="91.00" y1="942.78" x2="95.80" y2="942.78" stroke="#555" stroke-width="1.3" stroke-linecap="butt"/>
<line x1="91.00" y1="921.97" x2="95.80" y2="921.97" stroke="#222" stroke-width="1.3" stroke-linecap="butt"/>
<line x1="85.90" y1="901.17" x2="95.80" y2="901.17" stroke="#111" stroke-width="2.2" stroke-linecap="butt"/>
<line x1="91.00" y1="880.36" x2="95.80" y2="880.36" stroke="#222" stroke-width="1.3" stroke-linecap="butt"/>
<line x1="91.00" y1="859.55" x2="95.80" y2="859.55" stroke="#555" stroke-width="1.3" stroke-linecap="butt"/>
<line x1="91.00" y1="838.74" x2="95.80" y2="838.74" stroke="#222" stroke-width="1.3" stroke-linecap="butt"/>
<line x1="91.00" y1="817.94" x2="95.80" y2="817.94" stroke="#555" stroke-width="1.3" stroke-linecap="butt"/>
<line x1="85.90" y1="797.13" x2="95.80" y2="797.13" stroke="#111" stroke-width="2.2" stroke-linecap="butt"/>
<line x1="91.00" y1="776.32" x2="95.80" y2="776.32" stroke="#555" stroke-width="1.3" stroke-linecap="butt"/>
<line x1="91.00" y1="755.52" x2="95.80" y2="755.52" stroke="#222" stroke-width="1.3" stroke-linecap="butt"/>
<line x1="91.00" y1="734.71" x2="95.80" y2="734.71" stroke="#555" stroke-width="1.3" stroke-linecap="butt"/>
<line x1="91.00" y1="713.90" x2="95.80" y2="713.90" stroke="#222" stroke-width="1.3" stroke-linecap="butt"/>
<line x1="85.90" y1="693.10" x2="95.80" y2="693.10" stroke="#111" stroke-width="2.2" stroke-linecap="butt"/>
<line x1="91.00" y1="672.29" x2="95.80" y2="672.29" stroke="#222" stroke-width="1.3" stroke-linecap="butt"/>
<text transform="translate(60.81 698.56) scale(0.9100 1)" font-family='"Liberation Sans", sans-serif' font-weight="normal" font-size="13.00" fill="#333">150</text>
<text transform="translate(60.81 802.60) scale(0.9100 1)" font-family='"Liberation Sans", sans-serif' font-weight="normal" font-size="13.00" fill="#333">100</text>
<text transform="translate(67.01 906.63) scale(0.9385 1)" font-family='"Liberation Sans", sans-serif' font-weight="normal" font-size="13.00" fill="#333">50</text>
<text transform="translate(72.52 1005.96) scale(1.0224 1)" font-family='"Liberation Sans", sans-serif' font-weight="normal" font-size="14.13" fill="#333">0</text>
<line x1="96.50" y1="1007.20" x2="96.50" y2="1011.80" stroke="#333" stroke-width="1.3" stroke-linecap="butt"/>
<line x1="138.60" y1="1007.20" x2="138.60" y2="1011.80" stroke="#333" stroke-width="1.3" stroke-linecap="butt"/>
<line x1="169.70" y1="1007.20" x2="169.70" y2="1011.80" stroke="#333" stroke-width="1.3" stroke-linecap="butt"/>
<line x1="194.20" y1="1007.20" x2="194.20" y2="1011.80" stroke="#333" stroke-width="1.3" stroke-linecap="butt"/>
<line x1="213.70" y1="1007.20" x2="213.70" y2="1011.80" stroke="#333" stroke-width="1.3" stroke-linecap="butt"/>
<line x1="229.20" y1="1007.20" x2="229.20" y2="1011.80" stroke="#333" stroke-width="1.3" stroke-linecap="butt"/>
<line x1="243.20" y1="1007.20" x2="243.20" y2="1011.80" stroke="#333" stroke-width="1.3" stroke-linecap="butt"/>
<line x1="255.80" y1="1007.20" x2="255.80" y2="1011.80" stroke="#333" stroke-width="1.3" stroke-linecap="butt"/>
<line x1="341.30" y1="1007.20" x2="341.30" y2="1011.80" stroke="#333" stroke-width="1.3" stroke-linecap="butt"/>
<line x1="385.20" y1="1007.20" x2="385.20" y2="1011.80" stroke="#333" stroke-width="1.3" stroke-linecap="butt"/>
<line x1="415.80" y1="1007.20" x2="415.80" y2="1011.80" stroke="#333" stroke-width="1.3" stroke-linecap="butt"/>
<line x1="439.40" y1="1007.20" x2="439.40" y2="1011.80" stroke="#333" stroke-width="1.3" stroke-linecap="butt"/>
<line x1="265.70" y1="1007.20" x2="265.70" y2="1016.00" stroke="#111" stroke-width="2" stroke-linecap="butt"/>
<text transform="translate(267.33 1035.97) scale(0.7941 1)" font-family='"Liberation Sans", sans-serif' font-weight="normal" font-size="13.00" fill="#333">10</text>
<text transform="translate(277.92 1028.00) scale(1.2229 1)" font-family='"Liberation Sans", sans-serif' font-weight="normal" font-size="12.76" fill="#333">2</text>
<text transform="translate(44.55 885.96) rotate(-90) scale(0.9480 1)" font-family='"Liberation Sans", sans-serif' font-weight="bold" font-size="25.30" fill="#000">Count</text>
<path d="M401.4 1042.3 L162.4 1042.3 L162.4 1033.2 L135.4 1047.0 L162.4 1060.8 L162.4 1051.7 L401.4 1051.7Z" fill="#000"/>
<text transform="translate(178.77 1094.60) scale(0.9743 1)" font-family='"Liberation Sans", sans-serif' font-weight="bold" font-size="24.73" fill="#000">PE/FITC ratio</text>
<rect x="455.90" y="670.10" width="18.20" height="20.40" fill="none" stroke="#ff0808" stroke-width="4" />
<rect x="455.90" y="700.40" width="18.20" height="20.50" fill="none" stroke="#00adef" stroke-width="4" />
<text transform="translate(491.56 688.98) scale(0.9545 1)" font-family='"Liberation Sans", sans-serif' font-weight="bold" font-size="22.33" fill="#000">DOX-</text>
<text transform="translate(490.89 718.79) scale(0.9706 1)" font-family='"Liberation Sans", sans-serif' font-weight="bold" font-size="21.48" fill="#000">DOX+</text>
<rect x="569.80" y="670.20" width="167.50" height="38.80" fill="none" stroke="#000" stroke-width="2.2" />
<line x1="652.30" y1="670.20" x2="652.30" y2="709.00" stroke="#000" stroke-width="2.2" stroke-linecap="butt"/>
<text transform="translate(599.83 699.80) scale(0.9822 1)" font-family='"Liberation Sans", sans-serif' font-weight="bold" font-size="37.50" fill="#000">-</text>
<text transform="translate(688.04 701.35) scale(1.0200 1)" font-family='"Liberation Sans", sans-serif' font-weight="bold" font-size="29.02" fill="#000">+</text>
<text transform="translate(747.74 702.49) scale(1.0201 1)" font-family='"Liberation Sans", sans-serif' font-weight="bold" font-size="31.38" fill="#000">DOX</text>
<path d="M581.10 1103.00 V844.40 H635.90 V1103.00" fill="#fff" stroke="#808080" stroke-width="3.8"/>
<rect x="668.30" y="915.90" width="58.70" height="187.10" fill="#808080" stroke="none" stroke-width="1" />
<line x1="691.00" y1="911.00" x2="712.00" y2="911.00" stroke="#555" stroke-width="1.1" stroke-linecap="butt"/>
<line x1="691.00" y1="920.00" x2="712.00" y2="920.00" stroke="#333" stroke-width="1.4" stroke-linecap="butt"/>
<line x1="698.10" y1="911.00" x2="698.10" y2="920.00" stroke="#444" stroke-width="1.1" stroke-linecap="butt"/>
<line x1="549.10" y1="787.90" x2="549.10" y2="1104.40" stroke="#000" stroke-width="2.8" stroke-linecap="butt"/>
<line x1="536.00" y1="1103.00" x2="759.50" y2="1103.00" stroke="#000" stroke-width="2.8" stroke-linecap="butt"/>
<line x1="536.80" y1="1103.00" x2="549.10" y2="1103.00" stroke="#000" stroke-width="2.8" stroke-linecap="butt"/>
<text transform="translate(519.98 1111.07) scale(1.0857 1)" font-family='"Liberation Sans", sans-serif' font-weight="bold" font-size="23.46" fill="#000">0</text>
<line x1="536.80" y1="1050.72" x2="549.10" y2="1050.72" stroke="#000" stroke-width="2.8" stroke-linecap="butt"/>
<text transform="translate(499.30 1058.78) scale(1.0651 1)" font-family='"Liberation Sans", sans-serif' font-weight="bold" font-size="23.46" fill="#000">0.2</text>
<line x1="536.80" y1="998.43" x2="549.10" y2="998.43" stroke="#000" stroke-width="2.8" stroke-linecap="butt"/>
<text transform="translate(499.32 1006.50) scale(1.0394 1)" font-family='"Liberation Sans", sans-serif' font-weight="bold" font-size="23.46" fill="#000">0.4</text>
<line x1="536.80" y1="946.15" x2="549.10" y2="946.15" stroke="#000" stroke-width="2.8" stroke-linecap="butt"/>
<text transform="translate(499.30 954.22) scale(1.0631 1)" font-family='"Liberation Sans", sans-serif' font-weight="bold" font-size="23.46" fill="#000">0.6</text>
<line x1="536.80" y1="893.87" x2="549.10" y2="893.87" stroke="#000" stroke-width="2.8" stroke-linecap="butt"/>
<text transform="translate(499.31 901.93) scale(1.0591 1)" font-family='"Liberation Sans", sans-serif' font-weight="bold" font-size="23.46" fill="#000">0.8</text>
<line x1="536.80" y1="841.58" x2="549.10" y2="841.58" stroke="#000" stroke-width="2.8" stroke-linecap="butt"/>
<text transform="translate(498.71 849.65) scale(1.0858 1)" font-family='"Liberation Sans", sans-serif' font-weight="bold" font-size="23.46" fill="#000">1.0</text>
<line x1="536.80" y1="789.30" x2="549.10" y2="789.30" stroke="#000" stroke-width="2.8" stroke-linecap="butt"/>
<text transform="translate(498.71 797.60) scale(1.0684 1)" font-family='"Liberation Sans", sans-serif' font-weight="bold" font-size="23.80" fill="#000">1.2</text>
<line x1="608.20" y1="1103.00" x2="608.20" y2="1115.40" stroke="#000" stroke-width="2.8" stroke-linecap="butt"/>
<line x1="697.40" y1="1103.00" x2="697.40" y2="1115.40" stroke="#000" stroke-width="2.8" stroke-linecap="butt"/>
<path d="M608.20 798.90 V759.50 H698.10 V900.60" fill="none" stroke="#000" stroke-width="3.4" stroke-linejoin="miter"/>
<circle cx="589.80" cy="842.50" r="4.4" fill="none" stroke="#000" stroke-width="2.7"/>
<circle cx="608.50" cy="842.50" r="4.4" fill="none" stroke="#000" stroke-width="2.7"/>
<circle cx="627.70" cy="842.50" r="4.4" fill="none" stroke="#000" stroke-width="2.7"/>
<circle cx="689.30" cy="910.40" r="4.4" fill="none" stroke="#000" stroke-width="2.7"/>
<circle cx="689.30" cy="922.00" r="4.4" fill="none" stroke="#000" stroke-width="2.7"/>
<circle cx="707.70" cy="915.10" r="4.4" fill="none" stroke="#000" stroke-width="2.7"/>
<text transform="translate(619.86 754.43) scale(1.0345 1)" font-family='"DejaVu Sans", sans-serif' font-weight="bold" font-size="30.75" fill="#000">****</text>
<text transform="translate(483.56 1059.36) rotate(-90) scale(0.9265 1)" font-family='"Liberation Sans", sans-serif' font-weight="normal" font-size="24.35" fill="#000">Relative PE/FITC ratio</text>
<path d="M1039.8 1003.4 L1042.6 1003.0 L1048.3 1002.1 L1053.2 1001.1 L1057.5 999.8 L1061.0 997.5 L1063.9 994.3 L1066.7 990.2 L1069.5 985.2 L1072.0 979.2 L1074.1 972.1 L1076.2 965.0 L1078.4 958.0 L1080.5 950.2 L1082.6 941.7 L1084.6 933.2 L1086.4 924.7 L1088.2 916.2 L1089.9 907.7 L1091.6 897.8 L1093.3 886.4 L1094.9 875.1 L1096.3 863.8 L1097.7 851.7 L1099.1 839.0 L1100.5 828.4 L1102.0 819.9 L1103.4 812.8 L1104.8 807.1 L1106.1 798.6 L1107.2 787.3 L1108.3 774.5 L1109.5 760.4 L1110.5 748.3 L1111.5 738.4 L1112.5 732.6 L1113.5 730.9 L1114.6 730.6 L1115.7 731.6 L1117.0 730.3 L1118.4 726.7 L1119.8 722.5 L1121.2 717.5 L1122.5 714.0 L1123.6 711.9 L1124.7 711.2 L1125.7 711.9 L1126.7 710.6 L1127.9 707.3 L1129.1 704.9 L1130.4 703.2 L1131.4 705.1 L1132.3 710.8 L1133.2 716.8 L1134.2 723.2 L1135.2 729.6 L1136.2 736.0 L1137.4 741.6 L1138.8 746.6 L1140.2 752.9 L1141.6 760.7 L1143.0 768.9 L1144.4 777.4 L1145.9 785.9 L1147.3 794.4 L1148.5 804.3 L1149.7 815.6 L1151.0 825.5 L1152.4 834.0 L1153.8 841.1 L1155.2 846.8 L1156.6 853.9 L1158.0 862.4 L1159.6 870.9 L1161.3 879.3 L1162.9 888.6 L1164.3 898.5 L1165.9 909.1 L1167.7 920.4 L1169.6 930.3 L1171.4 938.8 L1173.2 946.6 L1174.9 953.7 L1176.8 961.8 L1178.9 971.1 L1180.9 979.2 L1182.8 986.3 L1184.7 991.9 L1186.6 996.0 L1188.6 998.3 L1190.4 998.9 L1192.2 998.8 L1194.1 998.1 L1195.9 998.4 L1197.6 999.7 L1199.5 1000.8 L1201.6 1001.8 L1204.1 1002.4 L1206.9 1002.7 L1210.8 1003.0 L1215.8 1003.3 L1218.2 1003.4" fill="none" stroke="#ff3434" stroke-width="1.9" stroke-linejoin="round" />
<path d="M933.6 1001.1 L935.3 1001.7 L938.9 1002.8 L944.9 1003.4 L953.4 1003.4 L961.9 1003.2 L970.4 1002.8 L977.5 1002.2 L983.1 1001.5 L988.1 1000.2 L992.3 998.4 L996.6 996.3 L1000.8 993.9 L1004.7 991.2 L1008.3 988.4 L1011.1 986.8 L1013.2 986.3 L1015.7 984.2 L1018.5 980.4 L1021.0 976.4 L1023.1 972.1 L1025.3 968.2 L1027.4 964.7 L1029.5 961.8 L1031.6 959.7 L1033.8 957.6 L1035.9 955.5 L1037.7 950.9 L1039.1 943.8 L1040.6 936.7 L1042.3 929.6 L1044.1 925.0 L1045.9 922.9 L1047.6 917.9 L1049.0 910.2 L1050.4 902.4 L1051.8 894.6 L1053.4 888.2 L1055.3 883.2 L1056.9 879.0 L1058.3 875.5 L1059.7 873.0 L1061.2 871.6 L1062.6 868.0 L1064.0 862.4 L1065.4 858.8 L1066.8 857.4 L1068.2 852.8 L1069.7 845.0 L1071.2 836.2 L1072.9 826.2 L1074.8 818.1 L1077.0 811.7 L1078.7 805.3 L1080.1 799.0 L1081.6 795.1 L1083.0 793.7 L1084.6 791.5 L1086.4 788.7 L1088.2 785.2 L1089.9 780.9 L1091.6 778.1 L1093.3 776.7 L1094.9 773.1 L1096.3 767.5 L1097.6 760.4 L1098.7 751.9 L1099.8 746.9 L1100.8 745.5 L1101.8 746.9 L1102.9 751.2 L1104.1 757.2 L1105.2 765.0 L1106.4 769.4 L1107.7 770.4 L1108.9 770.4 L1110.0 769.4 L1111.2 770.7 L1112.3 774.2 L1113.2 777.0 L1113.9 779.1 L1114.8 777.0 L1115.8 770.7 L1116.7 767.3 L1117.5 767.0 L1118.4 769.2 L1119.2 773.7 L1120.2 781.6 L1121.4 793.0 L1122.6 802.9 L1124.0 811.4 L1125.6 818.5 L1127.3 824.1 L1128.9 829.1 L1130.3 833.3 L1131.7 839.7 L1133.1 848.2 L1134.7 857.4 L1136.6 867.3 L1138.4 877.2 L1140.3 887.1 L1142.2 897.1 L1144.2 907.0 L1146.1 915.5 L1147.9 922.5 L1149.8 930.7 L1151.6 939.9 L1153.5 947.7 L1155.5 954.1 L1157.6 960.4 L1159.9 966.8 L1162.2 973.2 L1164.6 979.6 L1167.2 985.6 L1170.1 991.2 L1173.3 995.6 L1176.8 998.7 L1181.8 1001.1 L1188.1 1002.6 L1191.3 1003.4" fill="none" stroke="#16cafa" stroke-width="2.2" stroke-linejoin="round" />
<path d="M933.6 1004.5 V664.6 Q933.6 662.6 935.6 662.6 H1274.0 V1004.5" fill="none" stroke="#858585" stroke-width="2"/>
<line x1="932.60" y1="1004.50" x2="1275.00" y2="1004.50" stroke="#222" stroke-width="1.7" stroke-linecap="butt"/>
<line x1="923.20" y1="1002.60" x2="933.10" y2="1002.60" stroke="#111" stroke-width="2.2" stroke-linecap="butt"/>
<line x1="928.30" y1="981.61" x2="933.10" y2="981.61" stroke="#555" stroke-width="1.3" stroke-linecap="butt"/>
<line x1="928.30" y1="960.61" x2="933.10" y2="960.61" stroke="#222" stroke-width="1.3" stroke-linecap="butt"/>
<line x1="928.30" y1="939.62" x2="933.10" y2="939.62" stroke="#555" stroke-width="1.3" stroke-linecap="butt"/>
<line x1="928.30" y1="918.63" x2="933.10" y2="918.63" stroke="#222" stroke-width="1.3" stroke-linecap="butt"/>
<line x1="923.20" y1="897.63" x2="933.10" y2="897.63" stroke="#111" stroke-width="2.2" stroke-linecap="butt"/>
<line x1="928.30" y1="876.64" x2="933.10" y2="876.64" stroke="#222" stroke-width="1.3" stroke-linecap="butt"/>
<line x1="928.30" y1="855.65" x2="933.10" y2="855.65" stroke="#555" stroke-width="1.3" stroke-linecap="butt"/>
<line x1="928.30" y1="834.66" x2="933.10" y2="834.66" stroke="#222" stroke-width="1.3" stroke-linecap="butt"/>
<line x1="928.30" y1="813.66" x2="933.10" y2="813.66" stroke="#555" stroke-width="1.3" stroke-linecap="butt"/>
<line x1="923.20" y1="792.67" x2="933.10" y2="792.67" stroke="#111" stroke-width="2.2" stroke-linecap="butt"/>
<line x1="928.30" y1="771.68" x2="933.10" y2="771.68" stroke="#555" stroke-width="1.3" stroke-linecap="butt"/>
<line x1="928.30" y1="750.68" x2="933.10" y2="750.68" stroke="#222" stroke-width="1.3" stroke-linecap="butt"/>
<line x1="928.30" y1="729.69" x2="933.10" y2="729.69" stroke="#555" stroke-width="1.3" stroke-linecap="butt"/>
<line x1="928.30" y1="708.70" x2="933.10" y2="708.70" stroke="#222" stroke-width="1.3" stroke-linecap="butt"/>
<line x1="923.20" y1="687.71" x2="933.10" y2="687.71" stroke="#111" stroke-width="2.2" stroke-linecap="butt"/>
<line x1="928.30" y1="666.71" x2="933.10" y2="666.71" stroke="#222" stroke-width="1.3" stroke-linecap="butt"/>
<text transform="translate(897.94 693.17) scale(0.8852 1)" font-family='"Liberation Sans", sans-serif' font-weight="normal" font-size="13.00" fill="#333">150</text>
<text transform="translate(897.94 798.14) scale(0.8852 1)" font-family='"Liberation Sans", sans-serif' font-weight="normal" font-size="13.00" fill="#333">100</text>
<text transform="translate(904.24 903.10) scale(0.8938 1)" font-family='"Liberation Sans", sans-serif' font-weight="normal" font-size="13.00" fill="#333">50</text>
<text transform="translate(909.80 1003.36) scale(1.0668 1)" font-family='"Liberation Sans", sans-serif' font-weight="normal" font-size="14.13" fill="#333">0</text>
<line x1="976.00" y1="1004.50" x2="976.00" y2="1009.10" stroke="#333" stroke-width="1.3" stroke-linecap="butt"/>
<line x1="1006.40" y1="1004.50" x2="1006.40" y2="1009.10" stroke="#333" stroke-width="1.3" stroke-linecap="butt"/>
<line x1="1030.70" y1="1004.50" x2="1030.70" y2="1009.10" stroke="#333" stroke-width="1.3" stroke-linecap="butt"/>
<line x1="1049.70" y1="1004.50" x2="1049.70" y2="1009.10" stroke="#333" stroke-width="1.3" stroke-linecap="butt"/>
<line x1="1065.30" y1="1004.50" x2="1065.30" y2="1009.10" stroke="#333" stroke-width="1.3" stroke-linecap="butt"/>
<line x1="1078.90" y1="1004.50" x2="1078.90" y2="1009.10" stroke="#333" stroke-width="1.3" stroke-linecap="butt"/>
<line x1="1090.80" y1="1004.50" x2="1090.80" y2="1009.10" stroke="#333" stroke-width="1.3" stroke-linecap="butt"/>
<line x1="1175.70" y1="1004.50" x2="1175.70" y2="1009.10" stroke="#333" stroke-width="1.3" stroke-linecap="butt"/>
<line x1="1221.10" y1="1004.50" x2="1221.10" y2="1009.10" stroke="#333" stroke-width="1.3" stroke-linecap="butt"/>
<line x1="1250.20" y1="1004.50" x2="1250.20" y2="1009.10" stroke="#333" stroke-width="1.3" stroke-linecap="butt"/>
<line x1="1273.50" y1="1004.50" x2="1273.50" y2="1009.10" stroke="#333" stroke-width="1.3" stroke-linecap="butt"/>
<line x1="1102.10" y1="1004.50" x2="1102.10" y2="1013.30" stroke="#111" stroke-width="2" stroke-linecap="butt"/>
<text transform="translate(1102.01 1034.45) scale(0.8038 1)" font-family='"Liberation Sans", sans-serif' font-weight="normal" font-size="14.84" fill="#333">10</text>
<text transform="translate(1115.02 1026.60) scale(1.1315 1)" font-family='"Liberation Sans", sans-serif' font-weight="normal" font-size="12.04" fill="#333">2</text>
<text transform="translate(883.75 881.77) rotate(-90) scale(0.9727 1)" font-family='"Liberation Sans", sans-serif' font-weight="bold" font-size="24.88" fill="#000">Count</text>
<path d="M1240.9 1037.0 L1002.5 1037.0 L1002.5 1028.0 L975.5 1041.7 L1002.5 1055.5 L1002.5 1046.4 L1240.9 1046.4Z" fill="#000"/>
<text transform="translate(1018.37 1089.80) scale(0.9336 1)" font-family='"Liberation Sans", sans-serif' font-weight="bold" font-size="25.89" fill="#000">PE/FITC ratio</text>
<rect x="1292.40" y="667.00" width="17.10" height="19.30" fill="none" stroke="#ff0808" stroke-width="3.8" />
<rect x="1292.40" y="699.00" width="17.10" height="18.70" fill="none" stroke="#00adef" stroke-width="3.8" />
<text transform="translate(1327.76 684.62) scale(1.1806 1)" font-family='"Liberation Sans", sans-serif' font-weight="bold" font-size="18.09" fill="#000">DOX-</text>
<text transform="translate(1327.41 715.22) scale(1.1695 1)" font-family='"Liberation Sans", sans-serif' font-weight="bold" font-size="17.67" fill="#000">DOX+</text>
<rect x="1397.30" y="623.20" width="181.10" height="70.90" fill="none" stroke="#000" stroke-width="2.1" />
<line x1="1489.00" y1="623.20" x2="1489.00" y2="694.10" stroke="#000" stroke-width="2.1" stroke-linecap="butt"/>
<line x1="1397.30" y1="658.50" x2="1578.40" y2="658.50" stroke="#000" stroke-width="2.3" stroke-linecap="butt"/>
<text transform="translate(1436.98 649.27) scale(1.1406 1)" font-family='"Liberation Sans", sans-serif' font-weight="bold" font-size="33.33" fill="#000">-</text>
<text transform="translate(1527.31 651.43) scale(1.0200 1)" font-family='"Liberation Sans", sans-serif' font-weight="bold" font-size="27.45" fill="#000">+</text>
<text transform="translate(1436.01 686.43) scale(1.0200 1)" font-family='"Liberation Sans", sans-serif' font-weight="bold" font-size="27.45" fill="#000">+</text>
<text transform="translate(1528.01 686.43) scale(1.0200 1)" font-family='"Liberation Sans", sans-serif' font-weight="bold" font-size="27.45" fill="#000">+</text>
<text transform="translate(1589.77 650.33) scale(1.0561 1)" font-family='"Liberation Sans", sans-serif' font-weight="bold" font-size="27.14" fill="#000">DOX</text>
<text transform="translate(1591.63 687.52) scale(0.9099 1)" font-family='"Liberation Sans", sans-serif' font-weight="bold" font-size="28.27" fill="#000">SAL</text>
<path d="M1415.40 1101.70 V837.20 H1472.00 V1101.70" fill="#fff" stroke="#808080" stroke-width="3.8"/>
<rect x="1505.30" y="926.30" width="60.40" height="175.40" fill="#808080" stroke="none" stroke-width="1" />
<line x1="1529.70" y1="921.70" x2="1550.60" y2="921.70" stroke="#555" stroke-width="1.1" stroke-linecap="butt"/>
<line x1="1529.70" y1="931.00" x2="1550.60" y2="931.00" stroke="#333" stroke-width="1.4" stroke-linecap="butt"/>
<line x1="1535.50" y1="921.70" x2="1535.50" y2="931.00" stroke="#444" stroke-width="1.1" stroke-linecap="butt"/>
<line x1="1382.20" y1="779.00" x2="1382.20" y2="1103.10" stroke="#000" stroke-width="2.8" stroke-linecap="butt"/>
<line x1="1369.40" y1="1101.70" x2="1598.20" y2="1101.70" stroke="#000" stroke-width="2.8" stroke-linecap="butt"/>
<line x1="1369.40" y1="1101.70" x2="1382.20" y2="1101.70" stroke="#000" stroke-width="2.8" stroke-linecap="butt"/>
<text transform="translate(1352.55 1109.67) scale(1.0263 1)" font-family='"Liberation Sans", sans-serif' font-weight="bold" font-size="23.18" fill="#000">0</text>
<line x1="1369.40" y1="1048.15" x2="1382.20" y2="1048.15" stroke="#000" stroke-width="2.8" stroke-linecap="butt"/>
<text transform="translate(1332.03 1056.12) scale(1.0452 1)" font-family='"Liberation Sans", sans-serif' font-weight="bold" font-size="23.18" fill="#000">0.2</text>
<line x1="1369.40" y1="994.60" x2="1382.20" y2="994.60" stroke="#000" stroke-width="2.8" stroke-linecap="butt"/>
<text transform="translate(1332.05 1002.57) scale(1.0200 1)" font-family='"Liberation Sans", sans-serif' font-weight="bold" font-size="23.18" fill="#000">0.4</text>
<line x1="1369.40" y1="941.05" x2="1382.20" y2="941.05" stroke="#000" stroke-width="2.8" stroke-linecap="butt"/>
<text transform="translate(1332.03 949.02) scale(1.0432 1)" font-family='"Liberation Sans", sans-serif' font-weight="bold" font-size="23.18" fill="#000">0.6</text>
<line x1="1369.40" y1="887.50" x2="1382.20" y2="887.50" stroke="#000" stroke-width="2.8" stroke-linecap="butt"/>
<text transform="translate(1332.04 895.47) scale(1.0393 1)" font-family='"Liberation Sans", sans-serif' font-weight="bold" font-size="23.18" fill="#000">0.8</text>
<line x1="1369.40" y1="833.95" x2="1382.20" y2="833.95" stroke="#000" stroke-width="2.8" stroke-linecap="butt"/>
<text transform="translate(1331.46 841.92) scale(1.0655 1)" font-family='"Liberation Sans", sans-serif' font-weight="bold" font-size="23.18" fill="#000">1.0</text>
<line x1="1369.40" y1="780.40" x2="1382.20" y2="780.40" stroke="#000" stroke-width="2.8" stroke-linecap="butt"/>
<text transform="translate(1331.46 788.60) scale(1.0484 1)" font-family='"Liberation Sans", sans-serif' font-weight="bold" font-size="23.51" fill="#000">1.2</text>
<line x1="1443.70" y1="1101.70" x2="1443.70" y2="1114.40" stroke="#000" stroke-width="2.8" stroke-linecap="butt"/>
<line x1="1535.50" y1="1101.70" x2="1535.50" y2="1114.40" stroke="#000" stroke-width="2.8" stroke-linecap="butt"/>
<path d="M1443.70 790.40 V750.50 H1535.50 V895.00" fill="none" stroke="#000" stroke-width="3.4" stroke-linejoin="miter"/>
<circle cx="1424.50" cy="835.30" r="4.4" fill="none" stroke="#000" stroke-width="2.7"/>
<circle cx="1444.00" cy="835.30" r="4.4" fill="none" stroke="#000" stroke-width="2.7"/>
<circle cx="1463.50" cy="835.30" r="4.4" fill="none" stroke="#000" stroke-width="2.7"/>
<circle cx="1526.20" cy="920.50" r="4.4" fill="none" stroke="#000" stroke-width="2.7"/>
<circle cx="1526.20" cy="932.10" r="4.4" fill="none" stroke="#000" stroke-width="2.7"/>
<circle cx="1544.80" cy="928.20" r="4.4" fill="none" stroke="#000" stroke-width="2.7"/>
<text transform="translate(1454.63 743.54) scale(1.2142 1)" font-family='"DejaVu Sans", sans-serif' font-weight="bold" font-size="27.53" fill="#000">****</text>
<text transform="translate(1315.06 1057.10) rotate(-90) scale(0.9462 1)" font-family='"Liberation Sans", sans-serif' font-weight="normal" font-size="24.35" fill="#000">Relative PE/FITC ratio</text>
<path d="M257.0 1349.4 L257.0 1349.1 L264.2 1348.8 L278.6 1348.2 L291.4 1347.6 L302.6 1347.1 L312.2 1346.3 L320.2 1345.2 L327.4 1343.8 L333.8 1342.2 L339.4 1340.6 L344.2 1339.0 L348.6 1336.9 L352.6 1334.4 L355.8 1332.0 L358.2 1329.7 L360.6 1326.8 L363.0 1323.1 L365.4 1319.4 L367.8 1315.7 L369.8 1312.9 L371.4 1311.0 L373.0 1307.8 L374.6 1303.3 L376.2 1299.7 L377.8 1297.0 L379.8 1295.5 L382.2 1295.2 L384.6 1293.6 L387.0 1290.7 L389.0 1287.6 L390.6 1284.4 L392.2 1280.8 L393.8 1276.8 L395.4 1274.0 L397.0 1272.4 L399.0 1270.8 L401.4 1269.2 L403.4 1268.0 L405.0 1267.2 L406.6 1267.1 L408.2 1267.5 L409.6 1268.1 L410.7 1268.7 L412.3 1268.1 L414.4 1266.2 L416.1 1263.5 L417.4 1259.9 L418.6 1257.5 L419.7 1256.3 L420.9 1256.8 L422.2 1259.2 L423.6 1262.3 L425.2 1265.9 L426.6 1268.4 L427.7 1269.7 L429.1 1270.1 L430.7 1269.6 L432.3 1269.3 L433.9 1269.1 L435.2 1270.1 L436.3 1272.2 L437.5 1275.2 L438.8 1279.2 L440.3 1283.2 L441.9 1287.2 L443.6 1291.6 L445.6 1296.4 L447.6 1300.8 L449.6 1304.8 L451.7 1308.9 L453.8 1312.9 L455.8 1317.3 L457.7 1322.1 L459.9 1326.9 L462.3 1331.7 L464.7 1335.7 L467.1 1338.9 L469.9 1341.7 L473.1 1344.1 L476.7 1345.9 L480.7 1347.2 L485.5 1348.2 L491.1 1348.8 L493.9 1349.1 L493.9 1349.4Z" fill="#ff9c9c" stroke="none" stroke-width="1" stroke-linejoin="round" />
<line x1="35.00" y1="1349.40" x2="530.60" y2="1349.40" stroke="#f77" stroke-width="1.2" stroke-linecap="butt"/>
<defs><linearGradient id="sg1349" gradientUnits="userSpaceOnUse" x1="0" y1="1349.4" x2="0" y2="1340.4"><stop offset="0" stop-color="#f01818" stop-opacity="0.25"/><stop offset="0.35" stop-color="#f01818" stop-opacity="0.55"/><stop offset="1" stop-color="#f01818" stop-opacity="1"/></linearGradient></defs>
<path d="M257.0 1349.1 L264.2 1348.8 L278.6 1348.2 L291.4 1347.6 L302.6 1347.1 L312.2 1346.3 L320.2 1345.2 L327.4 1343.8 L333.8 1342.2 L339.4 1340.6 L344.2 1339.0 L348.6 1336.9 L352.6 1334.4 L355.8 1332.0 L358.2 1329.7 L360.6 1326.8 L363.0 1323.1 L365.4 1319.4 L367.8 1315.7 L369.8 1312.9 L371.4 1311.0 L373.0 1307.8 L374.6 1303.3 L376.2 1299.7 L377.8 1297.0 L379.8 1295.5 L382.2 1295.2 L384.6 1293.6 L387.0 1290.7 L389.0 1287.6 L390.6 1284.4 L392.2 1280.8 L393.8 1276.8 L395.4 1274.0 L397.0 1272.4 L399.0 1270.8 L401.4 1269.2 L403.4 1268.0 L405.0 1267.2 L406.6 1267.1 L408.2 1267.5 L409.6 1268.1 L410.7 1268.7 L412.3 1268.1 L414.4 1266.2 L416.1 1263.5 L417.4 1259.9 L418.6 1257.5 L419.7 1256.3 L420.9 1256.8 L422.2 1259.2 L423.6 1262.3 L425.2 1265.9 L426.6 1268.4 L427.7 1269.7 L429.1 1270.1 L430.7 1269.6 L432.3 1269.3 L433.9 1269.1 L435.2 1270.1 L436.3 1272.2 L437.5 1275.2 L438.8 1279.2 L440.3 1283.2 L441.9 1287.2 L443.6 1291.6 L445.6 1296.4 L447.6 1300.8 L449.6 1304.8 L451.7 1308.9 L453.8 1312.9 L455.8 1317.3 L457.7 1322.1 L459.9 1326.9 L462.3 1331.7 L464.7 1335.7 L467.1 1338.9 L469.9 1341.7 L473.1 1344.1 L476.7 1345.9 L480.7 1347.2 L485.5 1348.2 L491.1 1348.8 L493.9 1349.1" fill="none" stroke="url(#sg1349)" stroke-width="2.3" stroke-linejoin="round" />
<path d="M248.9 1455.0 L248.9 1454.8 L252.5 1454.4 L259.8 1453.6 L265.0 1452.5 L268.2 1451.0 L271.4 1449.3 L274.6 1447.2 L277.8 1445.1 L281.0 1443.0 L284.2 1441.2 L287.4 1439.6 L290.6 1436.9 L293.8 1433.0 L297.0 1428.7 L300.2 1423.9 L303.0 1419.6 L305.4 1416.0 L307.4 1413.3 L309.0 1411.7 L311.0 1410.5 L313.4 1409.7 L315.8 1408.1 L318.2 1405.7 L320.6 1402.5 L323.0 1398.5 L325.4 1394.5 L327.8 1390.5 L330.0 1387.9 L332.1 1386.8 L334.1 1384.4 L336.0 1380.7 L337.8 1377.3 L339.4 1374.1 L341.4 1372.1 L343.8 1371.3 L346.2 1369.9 L348.6 1368.0 L351.0 1366.4 L353.4 1365.1 L355.4 1364.6 L357.0 1365.0 L358.6 1365.6 L360.2 1366.6 L361.8 1367.4 L363.4 1368.2 L365.0 1369.0 L366.6 1369.8 L368.2 1369.4 L369.8 1367.8 L371.3 1366.2 L372.5 1364.6 L373.7 1364.4 L374.9 1365.5 L376.2 1367.5 L377.8 1370.4 L379.8 1373.6 L382.2 1377.1 L384.6 1380.7 L387.0 1384.2 L389.4 1386.2 L391.8 1386.7 L394.2 1386.7 L396.6 1386.4 L399.0 1386.3 L401.4 1386.5 L403.4 1386.4 L405.0 1386.1 L406.6 1385.5 L408.2 1384.7 L409.6 1385.0 L410.7 1386.3 L412.3 1388.9 L414.4 1392.9 L416.3 1395.1 L417.9 1395.4 L419.5 1395.2 L421.1 1394.6 L423.1 1396.0 L425.5 1399.5 L427.9 1402.4 L430.3 1404.4 L432.7 1406.4 L435.1 1408.4 L437.5 1411.3 L439.9 1415.3 L442.3 1419.3 L444.7 1423.3 L447.1 1427.3 L449.5 1431.3 L452.3 1435.5 L455.5 1439.8 L458.7 1443.8 L461.9 1447.5 L465.5 1450.3 L469.5 1452.2 L474.3 1453.6 L479.9 1454.4 L482.7 1454.8 L482.7 1455.0Z" fill="#ffcc99" stroke="none" stroke-width="1" stroke-linejoin="round" />
<line x1="35.00" y1="1455.00" x2="530.60" y2="1455.00" stroke="#fb8" stroke-width="1.2" stroke-linecap="butt"/>
<defs><linearGradient id="sg1455" gradientUnits="userSpaceOnUse" x1="0" y1="1455.0" x2="0" y2="1446.0"><stop offset="0" stop-color="#f07a10" stop-opacity="0.25"/><stop offset="0.35" stop-color="#f07a10" stop-opacity="0.55"/><stop offset="1" stop-color="#f07a10" stop-opacity="1"/></linearGradient></defs>
<path d="M248.9 1454.8 L252.5 1454.4 L259.8 1453.6 L265.0 1452.5 L268.2 1451.0 L271.4 1449.3 L274.6 1447.2 L277.8 1445.1 L281.0 1443.0 L284.2 1441.2 L287.4 1439.6 L290.6 1436.9 L293.8 1433.0 L297.0 1428.7 L300.2 1423.9 L303.0 1419.6 L305.4 1416.0 L307.4 1413.3 L309.0 1411.7 L311.0 1410.5 L313.4 1409.7 L315.8 1408.1 L318.2 1405.7 L320.6 1402.5 L323.0 1398.5 L325.4 1394.5 L327.8 1390.5 L330.0 1387.9 L332.1 1386.8 L334.1 1384.4 L336.0 1380.7 L337.8 1377.3 L339.4 1374.1 L341.4 1372.1 L343.8 1371.3 L346.2 1369.9 L348.6 1368.0 L351.0 1366.4 L353.4 1365.1 L355.4 1364.6 L357.0 1365.0 L358.6 1365.6 L360.2 1366.6 L361.8 1367.4 L363.4 1368.2 L365.0 1369.0 L366.6 1369.8 L368.2 1369.4 L369.8 1367.8 L371.3 1366.2 L372.5 1364.6 L373.7 1364.4 L374.9 1365.5 L376.2 1367.5 L377.8 1370.4 L379.8 1373.6 L382.2 1377.1 L384.6 1380.7 L387.0 1384.2 L389.4 1386.2 L391.8 1386.7 L394.2 1386.7 L396.6 1386.4 L399.0 1386.3 L401.4 1386.5 L403.4 1386.4 L405.0 1386.1 L406.6 1385.5 L408.2 1384.7 L409.6 1385.0 L410.7 1386.3 L412.3 1388.9 L414.4 1392.9 L416.3 1395.1 L417.9 1395.4 L419.5 1395.2 L421.1 1394.6 L423.1 1396.0 L425.5 1399.5 L427.9 1402.4 L430.3 1404.4 L432.7 1406.4 L435.1 1408.4 L437.5 1411.3 L439.9 1415.3 L442.3 1419.3 L444.7 1423.3 L447.1 1427.3 L449.5 1431.3 L452.3 1435.5 L455.5 1439.8 L458.7 1443.8 L461.9 1447.5 L465.5 1450.3 L469.5 1452.2 L474.3 1453.6 L479.9 1454.4 L482.7 1454.8" fill="none" stroke="url(#sg1455)" stroke-width="2.0" stroke-linejoin="round" />
<path d="M214.7 1562.1 L214.7 1561.4 L218.8 1561.0 L227.2 1560.0 L234.5 1558.9 L240.9 1557.8 L248.9 1557.3 L258.6 1557.5 L268.2 1557.3 L277.8 1556.9 L285.0 1556.0 L289.8 1554.7 L294.2 1553.3 L298.2 1551.7 L301.8 1549.3 L305.0 1546.1 L308.2 1542.6 L311.4 1538.9 L314.2 1534.9 L316.6 1530.6 L319.0 1526.0 L321.4 1521.2 L323.8 1516.4 L326.2 1511.6 L328.6 1507.2 L331.0 1503.2 L333.4 1498.8 L335.8 1494.0 L338.2 1489.2 L340.6 1484.4 L343.0 1480.0 L345.4 1476.0 L347.6 1472.7 L349.5 1469.9 L351.5 1468.3 L353.6 1467.9 L355.4 1467.2 L357.0 1466.4 L358.5 1465.8 L359.7 1465.3 L361.1 1465.9 L362.5 1467.7 L364.1 1469.9 L365.7 1472.7 L367.3 1475.2 L368.9 1477.6 L370.5 1479.6 L372.3 1481.2 L374.1 1484.0 L376.1 1488.0 L378.2 1492.0 L380.6 1496.0 L383.0 1499.1 L385.4 1501.2 L387.8 1503.2 L390.2 1505.1 L392.6 1508.0 L395.0 1512.0 L397.4 1515.6 L399.8 1518.8 L402.2 1521.6 L404.6 1524.0 L407.0 1526.8 L409.4 1530.1 L412.3 1534.1 L415.5 1538.9 L418.7 1543.3 L421.9 1547.3 L425.1 1550.7 L428.3 1553.6 L431.5 1556.0 L434.7 1557.9 L437.9 1559.3 L441.1 1560.3 L444.7 1561.0 L448.7 1561.5 L450.7 1561.8 L450.7 1562.1Z" fill="#99ffff" stroke="none" stroke-width="1" stroke-linejoin="round" />
<line x1="35.00" y1="1562.10" x2="530.60" y2="1562.10" stroke="#8ff" stroke-width="1.2" stroke-linecap="butt"/>
<defs><linearGradient id="sg1562" gradientUnits="userSpaceOnUse" x1="0" y1="1562.1" x2="0" y2="1553.1"><stop offset="0" stop-color="#18eaf8" stop-opacity="0.25"/><stop offset="0.35" stop-color="#18eaf8" stop-opacity="0.55"/><stop offset="1" stop-color="#18eaf8" stop-opacity="1"/></linearGradient></defs>
<path d="M214.7 1561.4 L218.8 1561.0 L227.2 1560.0 L234.5 1558.9 L240.9 1557.8 L248.9 1557.3 L258.6 1557.5 L268.2 1557.3 L277.8 1556.9 L285.0 1556.0 L289.8 1554.7 L294.2 1553.3 L298.2 1551.7 L301.8 1549.3 L305.0 1546.1 L308.2 1542.6 L311.4 1538.9 L314.2 1534.9 L316.6 1530.6 L319.0 1526.0 L321.4 1521.2 L323.8 1516.4 L326.2 1511.6 L328.6 1507.2 L331.0 1503.2 L333.4 1498.8 L335.8 1494.0 L338.2 1489.2 L340.6 1484.4 L343.0 1480.0 L345.4 1476.0 L347.6 1472.7 L349.5 1469.9 L351.5 1468.3 L353.6 1467.9 L355.4 1467.2 L357.0 1466.4 L358.5 1465.8 L359.7 1465.3 L361.1 1465.9 L362.5 1467.7 L364.1 1469.9 L365.7 1472.7 L367.3 1475.2 L368.9 1477.6 L370.5 1479.6 L372.3 1481.2 L374.1 1484.0 L376.1 1488.0 L378.2 1492.0 L380.6 1496.0 L383.0 1499.1 L385.4 1501.2 L387.8 1503.2 L390.2 1505.1 L392.6 1508.0 L395.0 1512.0 L397.4 1515.6 L399.8 1518.8 L402.2 1521.6 L404.6 1524.0 L407.0 1526.8 L409.4 1530.1 L412.3 1534.1 L415.5 1538.9 L418.7 1543.3 L421.9 1547.3 L425.1 1550.7 L428.3 1553.6 L431.5 1556.0 L434.7 1557.9 L437.9 1559.3 L441.1 1560.3 L444.7 1561.0 L448.7 1561.5 L450.7 1561.8" fill="none" stroke="url(#sg1562)" stroke-width="2.0" stroke-linejoin="round" />
<path d="M237.7 1668.4 L237.7 1667.7 L240.1 1667.3 L244.9 1666.5 L249.7 1664.9 L254.6 1662.5 L259.4 1659.7 L264.2 1656.5 L268.2 1653.3 L271.4 1650.1 L274.2 1646.9 L276.6 1643.7 L279.0 1640.1 L281.4 1636.1 L283.8 1632.0 L286.2 1627.6 L288.6 1623.2 L291.0 1618.7 L293.1 1614.5 L295.1 1610.5 L296.8 1607.7 L298.4 1606.1 L300.0 1604.1 L301.6 1601.7 L303.2 1598.1 L304.8 1593.3 L306.7 1589.7 L308.7 1587.3 L310.8 1584.5 L312.9 1581.3 L314.9 1579.7 L316.8 1579.7 L319.0 1579.4 L321.4 1579.0 L323.8 1578.6 L326.2 1578.2 L328.0 1578.2 L329.3 1578.6 L330.8 1579.8 L332.4 1581.8 L334.1 1584.1 L336.0 1586.5 L338.2 1589.1 L340.6 1592.0 L342.8 1594.8 L344.9 1597.5 L346.9 1599.5 L348.9 1600.6 L351.0 1601.0 L353.4 1600.7 L355.4 1601.7 L357.0 1604.1 L358.6 1606.5 L360.2 1608.9 L361.8 1611.3 L363.4 1613.7 L365.3 1614.7 L367.3 1614.2 L369.3 1613.6 L371.3 1613.0 L373.2 1613.2 L375.1 1614.3 L377.1 1615.5 L379.2 1616.6 L381.4 1617.9 L383.8 1619.5 L386.2 1621.1 L388.6 1622.8 L391.0 1624.0 L393.4 1625.0 L395.4 1625.8 L397.0 1626.4 L398.6 1627.8 L400.2 1629.9 L401.8 1632.5 L403.4 1635.7 L405.2 1638.9 L407.1 1642.1 L409.1 1644.5 L411.2 1646.1 L413.5 1647.7 L415.9 1649.3 L418.3 1651.3 L420.7 1653.7 L423.1 1656.1 L425.5 1658.5 L428.3 1660.9 L431.5 1663.3 L434.7 1665.2 L437.9 1666.5 L441.5 1667.3 L445.5 1667.8 L447.5 1668.1 L447.5 1668.4Z" fill="#9c9cff" stroke="none" stroke-width="1" stroke-linejoin="round" />
<defs><linearGradient id="sg1668" gradientUnits="userSpaceOnUse" x1="0" y1="1668.4" x2="0" y2="1659.4"><stop offset="0" stop-color="#1616e0" stop-opacity="0.25"/><stop offset="0.35" stop-color="#1616e0" stop-opacity="0.55"/><stop offset="1" stop-color="#1616e0" stop-opacity="1"/></linearGradient></defs>
<path d="M237.7 1667.7 L240.1 1667.3 L244.9 1666.5 L249.7 1664.9 L254.6 1662.5 L259.4 1659.7 L264.2 1656.5 L268.2 1653.3 L271.4 1650.1 L274.2 1646.9 L276.6 1643.7 L279.0 1640.1 L281.4 1636.1 L283.8 1632.0 L286.2 1627.6 L288.6 1623.2 L291.0 1618.7 L293.1 1614.5 L295.1 1610.5 L296.8 1607.7 L298.4 1606.1 L300.0 1604.1 L301.6 1601.7 L303.2 1598.1 L304.8 1593.3 L306.7 1589.7 L308.7 1587.3 L310.8 1584.5 L312.9 1581.3 L314.9 1579.7 L316.8 1579.7 L319.0 1579.4 L321.4 1579.0 L323.8 1578.6 L326.2 1578.2 L328.0 1578.2 L329.3 1578.6 L330.8 1579.8 L332.4 1581.8 L334.1 1584.1 L336.0 1586.5 L338.2 1589.1 L340.6 1592.0 L342.8 1594.8 L344.9 1597.5 L346.9 1599.5 L348.9 1600.6 L351.0 1601.0 L353.4 1600.7 L355.4 1601.7 L357.0 1604.1 L358.6 1606.5 L360.2 1608.9 L361.8 1611.3 L363.4 1613.7 L365.3 1614.7 L367.3 1614.2 L369.3 1613.6 L371.3 1613.0 L373.2 1613.2 L375.1 1614.3 L377.1 1615.5 L379.2 1616.6 L381.4 1617.9 L383.8 1619.5 L386.2 1621.1 L388.6 1622.8 L391.0 1624.0 L393.4 1625.0 L395.4 1625.8 L397.0 1626.4 L398.6 1627.8 L400.2 1629.9 L401.8 1632.5 L403.4 1635.7 L405.2 1638.9 L407.1 1642.1 L409.1 1644.5 L411.2 1646.1 L413.5 1647.7 L415.9 1649.3 L418.3 1651.3 L420.7 1653.7 L423.1 1656.1 L425.5 1658.5 L428.3 1660.9 L431.5 1663.3 L434.7 1665.2 L437.9 1666.5 L441.5 1667.3 L445.5 1667.8 L447.5 1668.1" fill="none" stroke="url(#sg1668)" stroke-width="2.4" stroke-linejoin="round" />
<line x1="35.00" y1="1242.80" x2="530.60" y2="1242.80" stroke="#666" stroke-width="1" stroke-linecap="butt"/>
<line x1="530.60" y1="1242.80" x2="530.60" y2="1668.40" stroke="#555" stroke-width="1" stroke-linecap="butt"/>
<line x1="35.00" y1="1242.80" x2="35.00" y2="1668.40" stroke="#333" stroke-width="1.3" stroke-linecap="butt"/>
<line x1="34.50" y1="1668.40" x2="531.10" y2="1668.40" stroke="#333" stroke-width="1.4" stroke-linecap="butt"/>
<line x1="36.00" y1="1668.40" x2="36.00" y2="1672.90" stroke="#222" stroke-width="1.2" stroke-linecap="butt"/>
<line x1="63.42" y1="1668.40" x2="63.42" y2="1670.60" stroke="#444" stroke-width="0.8" stroke-linecap="butt"/>
<line x1="79.47" y1="1668.40" x2="79.47" y2="1670.60" stroke="#444" stroke-width="0.8" stroke-linecap="butt"/>
<line x1="90.85" y1="1668.40" x2="90.85" y2="1670.60" stroke="#444" stroke-width="0.8" stroke-linecap="butt"/>
<line x1="99.68" y1="1668.40" x2="99.68" y2="1670.60" stroke="#444" stroke-width="0.8" stroke-linecap="butt"/>
<line x1="106.89" y1="1668.40" x2="106.89" y2="1670.60" stroke="#444" stroke-width="0.8" stroke-linecap="butt"/>
<line x1="112.99" y1="1668.40" x2="112.99" y2="1670.60" stroke="#444" stroke-width="0.8" stroke-linecap="butt"/>
<line x1="118.27" y1="1668.40" x2="118.27" y2="1670.60" stroke="#444" stroke-width="0.8" stroke-linecap="butt"/>
<line x1="122.93" y1="1668.40" x2="122.93" y2="1670.60" stroke="#444" stroke-width="0.8" stroke-linecap="butt"/>
<line x1="127.10" y1="1668.40" x2="127.10" y2="1672.90" stroke="#222" stroke-width="1.2" stroke-linecap="butt"/>
<line x1="154.52" y1="1668.40" x2="154.52" y2="1670.60" stroke="#444" stroke-width="0.8" stroke-linecap="butt"/>
<line x1="170.57" y1="1668.40" x2="170.57" y2="1670.60" stroke="#444" stroke-width="0.8" stroke-linecap="butt"/>
<line x1="181.95" y1="1668.40" x2="181.95" y2="1670.60" stroke="#444" stroke-width="0.8" stroke-linecap="butt"/>
<line x1="190.78" y1="1668.40" x2="190.78" y2="1670.60" stroke="#444" stroke-width="0.8" stroke-linecap="butt"/>
<line x1="197.99" y1="1668.40" x2="197.99" y2="1670.60" stroke="#444" stroke-width="0.8" stroke-linecap="butt"/>
<line x1="204.09" y1="1668.40" x2="204.09" y2="1670.60" stroke="#444" stroke-width="0.8" stroke-linecap="butt"/>
<line x1="209.37" y1="1668.40" x2="209.37" y2="1670.60" stroke="#444" stroke-width="0.8" stroke-linecap="butt"/>
<line x1="214.03" y1="1668.40" x2="214.03" y2="1670.60" stroke="#444" stroke-width="0.8" stroke-linecap="butt"/>
<line x1="218.20" y1="1668.40" x2="218.20" y2="1672.90" stroke="#222" stroke-width="1.2" stroke-linecap="butt"/>
<line x1="245.62" y1="1668.40" x2="245.62" y2="1670.60" stroke="#444" stroke-width="0.8" stroke-linecap="butt"/>
<line x1="261.67" y1="1668.40" x2="261.67" y2="1670.60" stroke="#444" stroke-width="0.8" stroke-linecap="butt"/>
<line x1="273.05" y1="1668.40" x2="273.05" y2="1670.60" stroke="#444" stroke-width="0.8" stroke-linecap="butt"/>
<line x1="281.88" y1="1668.40" x2="281.88" y2="1670.60" stroke="#444" stroke-width="0.8" stroke-linecap="butt"/>
<line x1="289.09" y1="1668.40" x2="289.09" y2="1670.60" stroke="#444" stroke-width="0.8" stroke-linecap="butt"/>
<line x1="295.19" y1="1668.40" x2="295.19" y2="1670.60" stroke="#444" stroke-width="0.8" stroke-linecap="butt"/>
<line x1="300.47" y1="1668.40" x2="300.47" y2="1670.60" stroke="#444" stroke-width="0.8" stroke-linecap="butt"/>
<line x1="305.13" y1="1668.40" x2="305.13" y2="1670.60" stroke="#444" stroke-width="0.8" stroke-linecap="butt"/>
<line x1="309.30" y1="1668.40" x2="309.30" y2="1672.90" stroke="#222" stroke-width="1.2" stroke-linecap="butt"/>
<line x1="336.72" y1="1668.40" x2="336.72" y2="1670.60" stroke="#444" stroke-width="0.8" stroke-linecap="butt"/>
<line x1="352.77" y1="1668.40" x2="352.77" y2="1670.60" stroke="#444" stroke-width="0.8" stroke-linecap="butt"/>
<line x1="364.15" y1="1668.40" x2="364.15" y2="1670.60" stroke="#444" stroke-width="0.8" stroke-linecap="butt"/>
<line x1="372.98" y1="1668.40" x2="372.98" y2="1670.60" stroke="#444" stroke-width="0.8" stroke-linecap="butt"/>
<line x1="380.19" y1="1668.40" x2="380.19" y2="1670.60" stroke="#444" stroke-width="0.8" stroke-linecap="butt"/>
<line x1="386.29" y1="1668.40" x2="386.29" y2="1670.60" stroke="#444" stroke-width="0.8" stroke-linecap="butt"/>
<line x1="391.57" y1="1668.40" x2="391.57" y2="1670.60" stroke="#444" stroke-width="0.8" stroke-linecap="butt"/>
<line x1="396.23" y1="1668.40" x2="396.23" y2="1670.60" stroke="#444" stroke-width="0.8" stroke-linecap="butt"/>
<line x1="400.40" y1="1668.40" x2="400.40" y2="1672.90" stroke="#222" stroke-width="1.2" stroke-linecap="butt"/>
<line x1="427.82" y1="1668.40" x2="427.82" y2="1670.60" stroke="#444" stroke-width="0.8" stroke-linecap="butt"/>
<line x1="443.87" y1="1668.40" x2="443.87" y2="1670.60" stroke="#444" stroke-width="0.8" stroke-linecap="butt"/>
<line x1="455.25" y1="1668.40" x2="455.25" y2="1670.60" stroke="#444" stroke-width="0.8" stroke-linecap="butt"/>
<line x1="464.08" y1="1668.40" x2="464.08" y2="1670.60" stroke="#444" stroke-width="0.8" stroke-linecap="butt"/>
<line x1="471.29" y1="1668.40" x2="471.29" y2="1670.60" stroke="#444" stroke-width="0.8" stroke-linecap="butt"/>
<line x1="477.39" y1="1668.40" x2="477.39" y2="1670.60" stroke="#444" stroke-width="0.8" stroke-linecap="butt"/>
<line x1="482.67" y1="1668.40" x2="482.67" y2="1670.60" stroke="#444" stroke-width="0.8" stroke-linecap="butt"/>
<line x1="487.33" y1="1668.40" x2="487.33" y2="1670.60" stroke="#444" stroke-width="0.8" stroke-linecap="butt"/>
<line x1="491.50" y1="1668.40" x2="491.50" y2="1672.90" stroke="#222" stroke-width="1.2" stroke-linecap="butt"/>
<line x1="518.92" y1="1668.40" x2="518.92" y2="1670.60" stroke="#444" stroke-width="0.8" stroke-linecap="butt"/>
<text transform="translate(37.37 1690.00) scale(0.8012 1)" font-family='"DejaVu Sans", sans-serif' font-weight="bold" font-size="13.60" fill="#111">10</text>
<text transform="translate(52.46 1683.61) scale(0.8851 1)" font-family='"DejaVu Sans", sans-serif' font-weight="bold" font-size="12.81" fill="#111">0</text>
<text transform="translate(121.87 1690.00) scale(0.8012 1)" font-family='"DejaVu Sans", sans-serif' font-weight="bold" font-size="13.60" fill="#111">10</text>
<text transform="translate(136.01 1683.80) scale(0.9937 1)" font-family='"DejaVu Sans", sans-serif' font-weight="bold" font-size="13.29" fill="#111">1</text>
<text transform="translate(213.17 1690.00) scale(0.8012 1)" font-family='"DejaVu Sans", sans-serif' font-weight="bold" font-size="13.60" fill="#111">10</text>
<text transform="translate(227.77 1683.80) scale(0.9821 1)" font-family='"DejaVu Sans", sans-serif' font-weight="bold" font-size="13.06" fill="#111">2</text>
<text transform="translate(304.67 1690.00) scale(0.8012 1)" font-family='"DejaVu Sans", sans-serif' font-weight="bold" font-size="13.60" fill="#111">10</text>
<text transform="translate(319.47 1683.61) scale(0.9655 1)" font-family='"DejaVu Sans", sans-serif' font-weight="bold" font-size="12.81" fill="#111">3</text>
<text transform="translate(395.97 1690.00) scale(0.8012 1)" font-family='"DejaVu Sans", sans-serif' font-weight="bold" font-size="13.60" fill="#111">10</text>
<text transform="translate(411.09 1683.80) scale(0.8459 1)" font-family='"DejaVu Sans", sans-serif' font-weight="bold" font-size="13.29" fill="#111">4</text>
<text transform="translate(486.87 1690.00) scale(0.8012 1)" font-family='"DejaVu Sans", sans-serif' font-weight="bold" font-size="13.60" fill="#111">10</text>
<text transform="translate(501.54 1683.60) scale(0.9539 1)" font-family='"DejaVu Sans", sans-serif' font-weight="bold" font-size="13.02" fill="#111">5</text>
<text transform="translate(34.08 1715.80) scale(0.9689 1)" font-family='"Liberation Sans", sans-serif' font-weight="bold" font-size="32.58" fill="#000">TfR1</text>
<path d="M114.5 1705.9 L460.5 1705.9 L460.5 1697.2 L487.5 1711.0 L460.5 1724.8 L460.5 1716.1 L114.5 1716.1Z" fill="#000"/>
<line x1="541.90" y1="1242.20" x2="541.90" y2="1672.40" stroke="#000" stroke-width="3" stroke-linecap="butt"/>
<line x1="605.00" y1="1242.20" x2="605.00" y2="1672.40" stroke="#000" stroke-width="3" stroke-linecap="butt"/>
<line x1="668.60" y1="1242.20" x2="668.60" y2="1672.40" stroke="#000" stroke-width="3" stroke-linecap="butt"/>
<line x1="540.40" y1="1243.70" x2="670.10" y2="1243.70" stroke="#000" stroke-width="3" stroke-linecap="butt"/>
<line x1="540.40" y1="1351.50" x2="670.10" y2="1351.50" stroke="#000" stroke-width="3" stroke-linecap="butt"/>
<line x1="540.40" y1="1456.70" x2="670.10" y2="1456.70" stroke="#000" stroke-width="3" stroke-linecap="butt"/>
<line x1="540.40" y1="1564.70" x2="670.10" y2="1564.70" stroke="#000" stroke-width="3" stroke-linecap="butt"/>
<line x1="540.40" y1="1670.90" x2="670.10" y2="1670.90" stroke="#000" stroke-width="3" stroke-linecap="butt"/>
<line x1="697.90" y1="1243.30" x2="697.90" y2="1672.40" stroke="#000" stroke-width="3" stroke-linecap="butt"/>
<line x1="791.30" y1="1243.30" x2="791.30" y2="1672.40" stroke="#000" stroke-width="3" stroke-linecap="butt"/>
<line x1="696.40" y1="1244.80" x2="792.80" y2="1244.80" stroke="#000" stroke-width="3" stroke-linecap="butt"/>
<line x1="696.40" y1="1351.50" x2="792.80" y2="1351.50" stroke="#000" stroke-width="3" stroke-linecap="butt"/>
<line x1="696.40" y1="1457.70" x2="792.80" y2="1457.70" stroke="#000" stroke-width="3" stroke-linecap="butt"/>
<line x1="696.40" y1="1566.20" x2="792.80" y2="1566.20" stroke="#000" stroke-width="3" stroke-linecap="butt"/>
<line x1="696.40" y1="1670.90" x2="792.80" y2="1670.90" stroke="#000" stroke-width="3" stroke-linecap="butt"/>
<text transform="translate(546.93 1224.78) scale(1.0479 1)" font-family='"Liberation Sans", sans-serif' font-weight="bold" font-size="22.19" fill="#000">DOX</text>
<text transform="translate(619.76 1224.78) scale(0.9663 1)" font-family='"Liberation Sans", sans-serif' font-weight="bold" font-size="22.19" fill="#000">SAL</text>
<text transform="translate(703.49 1221.80) scale(1.1712 1)" font-family='"Liberation Sans", sans-serif' font-weight="bold" font-size="21.53" fill="#000">gMFI</text>
<text transform="translate(560.05 1312.38) scale(1.0200 1)" font-family='"Liberation Sans", sans-serif' font-weight="bold" font-size="33.33" fill="#000">+</text>
<text transform="translate(623.55 1310.18) scale(1.0200 1)" font-family='"Liberation Sans", sans-serif' font-weight="bold" font-size="33.33" fill="#000">+</text>
<text transform="translate(561.05 1422.78) scale(1.0200 1)" font-family='"Liberation Sans", sans-serif' font-weight="bold" font-size="33.33" fill="#000">+</text>
<text transform="translate(627.76 1419.30) scale(1.2447 1)" font-family='"Liberation Sans", sans-serif' font-weight="bold" font-size="35.00" fill="#000">-</text>
<text transform="translate(566.46 1521.60) scale(1.2447 1)" font-family='"Liberation Sans", sans-serif' font-weight="bold" font-size="35.00" fill="#000">-</text>
<text transform="translate(627.75 1522.48) scale(1.0200 1)" font-family='"Liberation Sans", sans-serif' font-weight="bold" font-size="33.33" fill="#000">+</text>
<text transform="translate(565.76 1630.10) scale(1.2447 1)" font-family='"Liberation Sans", sans-serif' font-weight="bold" font-size="35.00" fill="#000">-</text>
<text transform="translate(630.46 1629.00) scale(1.2447 1)" font-family='"Liberation Sans", sans-serif' font-weight="bold" font-size="35.00" fill="#000">-</text>
<text transform="translate(707.90 1310.76) scale(1.0653 1)" font-family='"Liberation Sans", sans-serif' font-weight="bold" font-size="24.03" fill="#000">12022</text>
<text transform="translate(720.12 1416.96) scale(1.0688 1)" font-family='"Liberation Sans", sans-serif' font-weight="bold" font-size="23.89" fill="#000">4812</text>
<text transform="translate(716.62 1523.40) scale(1.0637 1)" font-family='"Liberation Sans", sans-serif' font-weight="bold" font-size="24.08" fill="#000">3682</text>
<text transform="translate(716.30 1625.36) scale(1.0878 1)" font-family='"Liberation Sans", sans-serif' font-weight="bold" font-size="23.60" fill="#000">2188</text>
<path d="M584.2 1947.8 L584.2 1947.5 L586.2 1946.8 L590.2 1945.4 L594.6 1943.7 L599.4 1941.8 L604.2 1940.0 L609.0 1938.4 L613.8 1936.7 L618.6 1934.9 L622.6 1933.7 L625.8 1933.1 L629.0 1932.7 L632.2 1932.5 L635.4 1931.3 L638.6 1928.9 L641.8 1925.7 L645.0 1921.7 L648.2 1917.9 L651.4 1914.4 L654.6 1911.0 L657.8 1907.8 L661.0 1904.1 L664.2 1900.0 L667.4 1896.0 L670.6 1892.1 L673.4 1888.6 L675.8 1885.4 L678.2 1882.8 L680.6 1880.7 L682.6 1878.4 L684.2 1876.0 L685.7 1872.4 L687.0 1867.6 L688.4 1863.2 L690.0 1859.2 L691.6 1857.0 L693.2 1856.5 L694.8 1857.3 L696.4 1859.4 L698.0 1861.8 L699.6 1864.5 L701.2 1865.3 L702.8 1864.2 L704.4 1863.1 L706.0 1861.9 L707.8 1861.3 L709.7 1861.1 L711.9 1861.3 L714.3 1861.8 L716.7 1862.7 L719.1 1863.9 L721.2 1865.9 L723.1 1868.7 L725.1 1872.2 L727.2 1876.5 L729.3 1880.3 L731.4 1883.5 L733.2 1885.7 L734.8 1887.0 L736.4 1889.6 L738.0 1893.6 L739.8 1898.0 L741.7 1902.8 L743.9 1907.9 L746.3 1913.2 L748.7 1917.7 L751.1 1921.6 L753.9 1925.6 L757.1 1929.7 L760.3 1933.7 L763.5 1937.6 L766.7 1940.8 L769.9 1943.4 L773.5 1945.2 L777.5 1946.3 L781.9 1947.1 L786.7 1947.6 L789.1 1947.8 L789.1 1947.8Z" fill="#ffaaaa" stroke="none" stroke-width="1" stroke-linejoin="round" />
<line x1="334.70" y1="1947.80" x2="821.80" y2="1947.80" stroke="#f99" stroke-width="1.2" stroke-linecap="butt"/>
<defs><linearGradient id="sg1947" gradientUnits="userSpaceOnUse" x1="0" y1="1947.8" x2="0" y2="1938.8"><stop offset="0" stop-color="#f02626" stop-opacity="0.25"/><stop offset="0.35" stop-color="#f02626" stop-opacity="0.55"/><stop offset="1" stop-color="#f02626" stop-opacity="1"/></linearGradient></defs>
<path d="M584.2 1947.5 L586.2 1946.8 L590.2 1945.4 L594.6 1943.7 L599.4 1941.8 L604.2 1940.0 L609.0 1938.4 L613.8 1936.7 L618.6 1934.9 L622.6 1933.7 L625.8 1933.1 L629.0 1932.7 L632.2 1932.5 L635.4 1931.3 L638.6 1928.9 L641.8 1925.7 L645.0 1921.7 L648.2 1917.9 L651.4 1914.4 L654.6 1911.0 L657.8 1907.8 L661.0 1904.1 L664.2 1900.0 L667.4 1896.0 L670.6 1892.1 L673.4 1888.6 L675.8 1885.4 L678.2 1882.8 L680.6 1880.7 L682.6 1878.4 L684.2 1876.0 L685.7 1872.4 L687.0 1867.6 L688.4 1863.2 L690.0 1859.2 L691.6 1857.0 L693.2 1856.5 L694.8 1857.3 L696.4 1859.4 L698.0 1861.8 L699.6 1864.5 L701.2 1865.3 L702.8 1864.2 L704.4 1863.1 L706.0 1861.9 L707.8 1861.3 L709.7 1861.1 L711.9 1861.3 L714.3 1861.8 L716.7 1862.7 L719.1 1863.9 L721.2 1865.9 L723.1 1868.7 L725.1 1872.2 L727.2 1876.5 L729.3 1880.3 L731.4 1883.5 L733.2 1885.7 L734.8 1887.0 L736.4 1889.6 L738.0 1893.6 L739.8 1898.0 L741.7 1902.8 L743.9 1907.9 L746.3 1913.2 L748.7 1917.7 L751.1 1921.6 L753.9 1925.6 L757.1 1929.7 L760.3 1933.7 L763.5 1937.6 L766.7 1940.8 L769.9 1943.4 L773.5 1945.2 L777.5 1946.3 L781.9 1947.1 L786.7 1947.6 L789.1 1947.8" fill="none" stroke="url(#sg1947)" stroke-width="2.0" stroke-linejoin="round" />
<path d="M486.5 2052.0 L486.5 2051.6 L491.3 2051.3 L500.9 2050.9 L509.7 2050.3 L517.7 2049.7 L527.3 2049.2 L538.5 2048.9 L547.3 2048.1 L553.7 2046.8 L559.4 2045.6 L564.2 2044.5 L568.6 2043.3 L572.6 2042.0 L575.8 2040.4 L578.2 2038.5 L580.6 2035.7 L583.0 2032.0 L585.2 2028.8 L587.3 2026.0 L589.3 2023.9 L591.2 2022.3 L593.0 2021.6 L594.6 2022.0 L596.6 2022.8 L599.0 2024.0 L601.4 2023.9 L603.8 2022.3 L606.2 2021.0 L608.6 2020.0 L611.0 2019.0 L613.4 2017.9 L615.4 2015.7 L617.0 2012.5 L618.6 2008.9 L620.2 2004.9 L621.8 2002.1 L623.4 2000.5 L625.4 1999.1 L627.8 1997.8 L630.2 1996.7 L632.6 1995.7 L635.0 1995.3 L637.4 1995.5 L639.8 1994.8 L642.2 1993.4 L644.6 1990.8 L647.0 1987.1 L649.4 1983.9 L651.8 1981.2 L654.2 1978.9 L656.6 1977.0 L658.6 1975.8 L660.2 1975.3 L661.8 1975.5 L663.4 1976.3 L665.0 1975.2 L666.6 1972.3 L668.0 1968.9 L669.1 1964.9 L670.3 1962.2 L671.6 1961.0 L672.9 1960.6 L674.1 1961.0 L675.6 1962.5 L677.2 1964.9 L678.8 1966.2 L680.4 1966.6 L682.0 1966.5 L683.6 1966.0 L685.4 1966.4 L687.3 1967.7 L689.4 1969.8 L691.8 1972.7 L694.6 1975.5 L697.8 1978.4 L701.0 1982.0 L704.2 1986.3 L707.4 1990.9 L710.7 1995.7 L713.9 2000.9 L717.1 2006.5 L720.3 2011.7 L723.5 2016.5 L726.7 2021.2 L729.9 2025.6 L733.5 2030.0 L737.5 2034.4 L741.9 2038.4 L746.7 2042.1 L751.5 2045.0 L756.3 2047.3 L761.1 2048.9 L765.9 2050.1 L771.9 2050.9 L779.1 2051.3 L782.7 2051.6 L782.7 2052.0Z" fill="#ffcc99" stroke="none" stroke-width="1" stroke-linejoin="round" />
<line x1="334.70" y1="2052.00" x2="821.80" y2="2052.00" stroke="#fb8" stroke-width="1.2" stroke-linecap="butt"/>
<defs><linearGradient id="sg2052" gradientUnits="userSpaceOnUse" x1="0" y1="2052.0" x2="0" y2="2043.0"><stop offset="0" stop-color="#f27c10" stop-opacity="0.25"/><stop offset="0.35" stop-color="#f27c10" stop-opacity="0.55"/><stop offset="1" stop-color="#f27c10" stop-opacity="1"/></linearGradient></defs>
<path d="M486.5 2051.6 L491.3 2051.3 L500.9 2050.9 L509.7 2050.3 L517.7 2049.7 L527.3 2049.2 L538.5 2048.9 L547.3 2048.1 L553.7 2046.8 L559.4 2045.6 L564.2 2044.5 L568.6 2043.3 L572.6 2042.0 L575.8 2040.4 L578.2 2038.5 L580.6 2035.7 L583.0 2032.0 L585.2 2028.8 L587.3 2026.0 L589.3 2023.9 L591.2 2022.3 L593.0 2021.6 L594.6 2022.0 L596.6 2022.8 L599.0 2024.0 L601.4 2023.9 L603.8 2022.3 L606.2 2021.0 L608.6 2020.0 L611.0 2019.0 L613.4 2017.9 L615.4 2015.7 L617.0 2012.5 L618.6 2008.9 L620.2 2004.9 L621.8 2002.1 L623.4 2000.5 L625.4 1999.1 L627.8 1997.8 L630.2 1996.7 L632.6 1995.7 L635.0 1995.3 L637.4 1995.5 L639.8 1994.8 L642.2 1993.4 L644.6 1990.8 L647.0 1987.1 L649.4 1983.9 L651.8 1981.2 L654.2 1978.9 L656.6 1977.0 L658.6 1975.8 L660.2 1975.3 L661.8 1975.5 L663.4 1976.3 L665.0 1975.2 L666.6 1972.3 L668.0 1968.9 L669.1 1964.9 L670.3 1962.2 L671.6 1961.0 L672.9 1960.6 L674.1 1961.0 L675.6 1962.5 L677.2 1964.9 L678.8 1966.2 L680.4 1966.6 L682.0 1966.5 L683.6 1966.0 L685.4 1966.4 L687.3 1967.7 L689.4 1969.8 L691.8 1972.7 L694.6 1975.5 L697.8 1978.4 L701.0 1982.0 L704.2 1986.3 L707.4 1990.9 L710.7 1995.7 L713.9 2000.9 L717.1 2006.5 L720.3 2011.7 L723.5 2016.5 L726.7 2021.2 L729.9 2025.6 L733.5 2030.0 L737.5 2034.4 L741.9 2038.4 L746.7 2042.1 L751.5 2045.0 L756.3 2047.3 L761.1 2048.9 L765.9 2050.1 L771.9 2050.9 L779.1 2051.3 L782.7 2051.6" fill="none" stroke="url(#sg2052)" stroke-width="1.9" stroke-linejoin="round" />
<path d="M454.5 2155.9 L454.5 2155.6 L460.9 2155.4 L473.7 2154.9 L484.9 2154.4 L494.5 2153.9 L503.3 2153.3 L511.3 2152.5 L517.7 2151.8 L522.5 2151.4 L528.1 2151.2 L534.5 2151.4 L540.9 2151.4 L547.3 2151.4 L553.7 2151.4 L560.2 2151.2 L566.6 2150.8 L573.0 2150.2 L579.4 2149.4 L585.8 2148.6 L590.6 2147.8 L593.8 2147.0 L596.6 2146.2 L599.0 2145.4 L601.4 2144.9 L603.8 2144.8 L606.2 2144.1 L608.6 2143.0 L611.0 2141.5 L613.4 2139.6 L615.8 2137.4 L618.2 2135.0 L620.6 2132.6 L623.0 2130.2 L625.4 2127.8 L627.8 2125.4 L630.2 2123.6 L632.6 2122.3 L635.0 2120.5 L637.4 2118.0 L639.8 2115.1 L642.2 2111.6 L644.6 2108.0 L647.0 2104.3 L649.4 2100.0 L651.8 2095.2 L654.2 2090.4 L656.6 2085.6 L658.9 2080.8 L660.9 2076.0 L662.9 2072.3 L664.9 2069.5 L666.6 2067.1 L668.2 2065.1 L669.6 2063.5 L670.7 2062.3 L671.9 2062.3 L673.2 2063.5 L674.4 2066.0 L675.5 2070.0 L676.9 2074.0 L678.5 2078.0 L680.3 2081.9 L682.4 2085.5 L684.2 2090.0 L685.8 2095.1 L687.7 2100.4 L689.8 2106.0 L691.9 2111.2 L694.2 2116.0 L696.6 2120.9 L699.1 2125.7 L701.8 2130.1 L704.5 2134.1 L707.4 2137.8 L710.7 2141.3 L713.9 2144.4 L717.1 2146.9 L720.7 2149.3 L724.7 2151.6 L729.9 2153.2 L736.3 2154.2 L744.3 2155.0 L753.9 2155.6 L758.7 2155.9 L758.7 2155.9Z" fill="#ccff99" stroke="none" stroke-width="1" stroke-linejoin="round" />
<line x1="334.70" y1="2155.90" x2="821.80" y2="2155.90" stroke="#bf8" stroke-width="1.2" stroke-linecap="butt"/>
<defs><linearGradient id="sg2155" gradientUnits="userSpaceOnUse" x1="0" y1="2155.9" x2="0" y2="2146.9"><stop offset="0" stop-color="#76ea10" stop-opacity="0.25"/><stop offset="0.35" stop-color="#76ea10" stop-opacity="0.55"/><stop offset="1" stop-color="#76ea10" stop-opacity="1"/></linearGradient></defs>
<path d="M454.5 2155.6 L460.9 2155.4 L473.7 2154.9 L484.9 2154.4 L494.5 2153.9 L503.3 2153.3 L511.3 2152.5 L517.7 2151.8 L522.5 2151.4 L528.1 2151.2 L534.5 2151.4 L540.9 2151.4 L547.3 2151.4 L553.7 2151.4 L560.2 2151.2 L566.6 2150.8 L573.0 2150.2 L579.4 2149.4 L585.8 2148.6 L590.6 2147.8 L593.8 2147.0 L596.6 2146.2 L599.0 2145.4 L601.4 2144.9 L603.8 2144.8 L606.2 2144.1 L608.6 2143.0 L611.0 2141.5 L613.4 2139.6 L615.8 2137.4 L618.2 2135.0 L620.6 2132.6 L623.0 2130.2 L625.4 2127.8 L627.8 2125.4 L630.2 2123.6 L632.6 2122.3 L635.0 2120.5 L637.4 2118.0 L639.8 2115.1 L642.2 2111.6 L644.6 2108.0 L647.0 2104.3 L649.4 2100.0 L651.8 2095.2 L654.2 2090.4 L656.6 2085.6 L658.9 2080.8 L660.9 2076.0 L662.9 2072.3 L664.9 2069.5 L666.6 2067.1 L668.2 2065.1 L669.6 2063.5 L670.7 2062.3 L671.9 2062.3 L673.2 2063.5 L674.4 2066.0 L675.5 2070.0 L676.9 2074.0 L678.5 2078.0 L680.3 2081.9 L682.4 2085.5 L684.2 2090.0 L685.8 2095.1 L687.7 2100.4 L689.8 2106.0 L691.9 2111.2 L694.2 2116.0 L696.6 2120.9 L699.1 2125.7 L701.8 2130.1 L704.5 2134.1 L707.4 2137.8 L710.7 2141.3 L713.9 2144.4 L717.1 2146.9 L720.7 2149.3 L724.7 2151.6 L729.9 2153.2 L736.3 2154.2 L744.3 2155.0 L753.9 2155.6 L758.7 2155.9" fill="none" stroke="url(#sg2155)" stroke-width="2.0" stroke-linejoin="round" />
<path d="M475.3 2260.3 L475.3 2260.0 L481.3 2259.8 L493.3 2259.5 L502.5 2259.2 L508.9 2258.9 L514.5 2258.1 L519.3 2256.8 L523.7 2255.6 L527.7 2254.5 L531.3 2253.7 L534.5 2253.2 L537.3 2251.7 L539.7 2249.3 L542.1 2246.5 L544.5 2243.3 L546.8 2239.7 L548.9 2235.7 L550.9 2231.3 L552.8 2226.5 L554.7 2222.1 L556.6 2218.1 L558.4 2215.3 L560.0 2213.7 L561.6 2212.1 L563.2 2210.5 L564.6 2207.3 L565.9 2202.5 L567.2 2196.9 L568.5 2190.5 L569.7 2185.1 L570.8 2180.6 L572.0 2177.6 L573.3 2176.2 L574.6 2175.8 L576.1 2176.6 L577.6 2178.0 L579.2 2179.9 L580.8 2181.5 L582.4 2182.6 L584.2 2182.7 L586.3 2181.9 L588.6 2181.0 L591.0 2179.8 L593.4 2178.9 L595.8 2178.1 L598.0 2177.8 L600.1 2178.2 L601.9 2177.5 L603.5 2175.9 L605.1 2174.6 L606.7 2173.4 L608.1 2173.1 L609.2 2173.6 L610.3 2175.2 L611.5 2177.9 L612.8 2180.7 L614.4 2183.4 L616.0 2185.2 L617.6 2186.2 L619.2 2186.8 L620.8 2187.1 L622.4 2187.9 L624.0 2189.0 L625.6 2188.8 L627.2 2187.4 L629.1 2186.7 L631.2 2186.7 L633.4 2187.0 L635.8 2187.6 L638.2 2188.2 L640.6 2188.7 L642.6 2189.1 L644.2 2189.6 L645.8 2188.8 L647.4 2186.7 L649.0 2184.7 L650.6 2182.6 L652.2 2181.2 L653.8 2180.6 L655.3 2180.6 L656.5 2181.2 L657.9 2183.0 L659.3 2185.9 L660.9 2189.1 L662.5 2192.6 L664.3 2195.0 L666.4 2196.3 L668.2 2197.1 L669.8 2197.4 L671.4 2199.0 L673.0 2201.9 L674.9 2205.1 L676.9 2208.6 L678.9 2211.6 L680.9 2214.2 L683.0 2216.8 L685.4 2219.6 L687.7 2222.5 L689.8 2225.7 L691.9 2228.9 L694.2 2232.1 L696.6 2235.6 L699.1 2239.2 L701.8 2242.4 L704.5 2245.2 L707.4 2247.7 L710.7 2250.1 L714.3 2252.4 L718.3 2254.5 L722.7 2256.3 L727.5 2257.9 L734.3 2259.1 L743.1 2259.9 L747.5 2260.3 L747.5 2260.3Z" fill="#99ffcc" stroke="none" stroke-width="1" stroke-linejoin="round" />
<defs><linearGradient id="sg2260" gradientUnits="userSpaceOnUse" x1="0" y1="2260.3" x2="0" y2="2251.3"><stop offset="0" stop-color="#12ee88" stop-opacity="0.25"/><stop offset="0.35" stop-color="#12ee88" stop-opacity="0.55"/><stop offset="1" stop-color="#12ee88" stop-opacity="1"/></linearGradient></defs>
<path d="M475.3 2260.0 L481.3 2259.8 L493.3 2259.5 L502.5 2259.2 L508.9 2258.9 L514.5 2258.1 L519.3 2256.8 L523.7 2255.6 L527.7 2254.5 L531.3 2253.7 L534.5 2253.2 L537.3 2251.7 L539.7 2249.3 L542.1 2246.5 L544.5 2243.3 L546.8 2239.7 L548.9 2235.7 L550.9 2231.3 L552.8 2226.5 L554.7 2222.1 L556.6 2218.1 L558.4 2215.3 L560.0 2213.7 L561.6 2212.1 L563.2 2210.5 L564.6 2207.3 L565.9 2202.5 L567.2 2196.9 L568.5 2190.5 L569.7 2185.1 L570.8 2180.6 L572.0 2177.6 L573.3 2176.2 L574.6 2175.8 L576.1 2176.6 L577.6 2178.0 L579.2 2179.9 L580.8 2181.5 L582.4 2182.6 L584.2 2182.7 L586.3 2181.9 L588.6 2181.0 L591.0 2179.8 L593.4 2178.9 L595.8 2178.1 L598.0 2177.8 L600.1 2178.2 L601.9 2177.5 L603.5 2175.9 L605.1 2174.6 L606.7 2173.4 L608.1 2173.1 L609.2 2173.6 L610.3 2175.2 L611.5 2177.9 L612.8 2180.7 L614.4 2183.4 L616.0 2185.2 L617.6 2186.2 L619.2 2186.8 L620.8 2187.1 L622.4 2187.9 L624.0 2189.0 L625.6 2188.8 L627.2 2187.4 L629.1 2186.7 L631.2 2186.7 L633.4 2187.0 L635.8 2187.6 L638.2 2188.2 L640.6 2188.7 L642.6 2189.1 L644.2 2189.6 L645.8 2188.8 L647.4 2186.7 L649.0 2184.7 L650.6 2182.6 L652.2 2181.2 L653.8 2180.6 L655.3 2180.6 L656.5 2181.2 L657.9 2183.0 L659.3 2185.9 L660.9 2189.1 L662.5 2192.6 L664.3 2195.0 L666.4 2196.3 L668.2 2197.1 L669.8 2197.4 L671.4 2199.0 L673.0 2201.9 L674.9 2205.1 L676.9 2208.6 L678.9 2211.6 L680.9 2214.2 L683.0 2216.8 L685.4 2219.6 L687.7 2222.5 L689.8 2225.7 L691.9 2228.9 L694.2 2232.1 L696.6 2235.6 L699.1 2239.2 L701.8 2242.4 L704.5 2245.2 L707.4 2247.7 L710.7 2250.1 L714.3 2252.4 L718.3 2254.5 L722.7 2256.3 L727.5 2257.9 L734.3 2259.1 L743.1 2259.9 L747.5 2260.3" fill="none" stroke="url(#sg2260)" stroke-width="2.2" stroke-linejoin="round" />
<line x1="334.70" y1="1843.80" x2="821.80" y2="1843.80" stroke="#666" stroke-width="1" stroke-linecap="butt"/>
<line x1="821.80" y1="1843.80" x2="821.80" y2="2260.30" stroke="#555" stroke-width="1" stroke-linecap="butt"/>
<line x1="334.70" y1="1843.80" x2="334.70" y2="2260.30" stroke="#333" stroke-width="1.3" stroke-linecap="butt"/>
<line x1="334.20" y1="2260.30" x2="822.30" y2="2260.30" stroke="#333" stroke-width="1.4" stroke-linecap="butt"/>
<line x1="335.40" y1="2260.30" x2="335.40" y2="2264.80" stroke="#222" stroke-width="1.2" stroke-linecap="butt"/>
<line x1="362.31" y1="2260.30" x2="362.31" y2="2262.50" stroke="#444" stroke-width="0.8" stroke-linecap="butt"/>
<line x1="378.05" y1="2260.30" x2="378.05" y2="2262.50" stroke="#444" stroke-width="0.8" stroke-linecap="butt"/>
<line x1="389.22" y1="2260.30" x2="389.22" y2="2262.50" stroke="#444" stroke-width="0.8" stroke-linecap="butt"/>
<line x1="397.89" y1="2260.30" x2="397.89" y2="2262.50" stroke="#444" stroke-width="0.8" stroke-linecap="butt"/>
<line x1="404.97" y1="2260.30" x2="404.97" y2="2262.50" stroke="#444" stroke-width="0.8" stroke-linecap="butt"/>
<line x1="410.95" y1="2260.30" x2="410.95" y2="2262.50" stroke="#444" stroke-width="0.8" stroke-linecap="butt"/>
<line x1="416.14" y1="2260.30" x2="416.14" y2="2262.50" stroke="#444" stroke-width="0.8" stroke-linecap="butt"/>
<line x1="420.71" y1="2260.30" x2="420.71" y2="2262.50" stroke="#444" stroke-width="0.8" stroke-linecap="butt"/>
<line x1="424.80" y1="2260.30" x2="424.80" y2="2264.80" stroke="#222" stroke-width="1.2" stroke-linecap="butt"/>
<line x1="451.71" y1="2260.30" x2="451.71" y2="2262.50" stroke="#444" stroke-width="0.8" stroke-linecap="butt"/>
<line x1="467.45" y1="2260.30" x2="467.45" y2="2262.50" stroke="#444" stroke-width="0.8" stroke-linecap="butt"/>
<line x1="478.62" y1="2260.30" x2="478.62" y2="2262.50" stroke="#444" stroke-width="0.8" stroke-linecap="butt"/>
<line x1="487.29" y1="2260.30" x2="487.29" y2="2262.50" stroke="#444" stroke-width="0.8" stroke-linecap="butt"/>
<line x1="494.37" y1="2260.30" x2="494.37" y2="2262.50" stroke="#444" stroke-width="0.8" stroke-linecap="butt"/>
<line x1="500.35" y1="2260.30" x2="500.35" y2="2262.50" stroke="#444" stroke-width="0.8" stroke-linecap="butt"/>
<line x1="505.54" y1="2260.30" x2="505.54" y2="2262.50" stroke="#444" stroke-width="0.8" stroke-linecap="butt"/>
<line x1="510.11" y1="2260.30" x2="510.11" y2="2262.50" stroke="#444" stroke-width="0.8" stroke-linecap="butt"/>
<line x1="514.20" y1="2260.30" x2="514.20" y2="2264.80" stroke="#222" stroke-width="1.2" stroke-linecap="butt"/>
<line x1="541.11" y1="2260.30" x2="541.11" y2="2262.50" stroke="#444" stroke-width="0.8" stroke-linecap="butt"/>
<line x1="556.85" y1="2260.30" x2="556.85" y2="2262.50" stroke="#444" stroke-width="0.8" stroke-linecap="butt"/>
<line x1="568.02" y1="2260.30" x2="568.02" y2="2262.50" stroke="#444" stroke-width="0.8" stroke-linecap="butt"/>
<line x1="576.69" y1="2260.30" x2="576.69" y2="2262.50" stroke="#444" stroke-width="0.8" stroke-linecap="butt"/>
<line x1="583.77" y1="2260.30" x2="583.77" y2="2262.50" stroke="#444" stroke-width="0.8" stroke-linecap="butt"/>
<line x1="589.75" y1="2260.30" x2="589.75" y2="2262.50" stroke="#444" stroke-width="0.8" stroke-linecap="butt"/>
<line x1="594.94" y1="2260.30" x2="594.94" y2="2262.50" stroke="#444" stroke-width="0.8" stroke-linecap="butt"/>
<line x1="599.51" y1="2260.30" x2="599.51" y2="2262.50" stroke="#444" stroke-width="0.8" stroke-linecap="butt"/>
<line x1="603.60" y1="2260.30" x2="603.60" y2="2264.80" stroke="#222" stroke-width="1.2" stroke-linecap="butt"/>
<line x1="630.51" y1="2260.30" x2="630.51" y2="2262.50" stroke="#444" stroke-width="0.8" stroke-linecap="butt"/>
<line x1="646.25" y1="2260.30" x2="646.25" y2="2262.50" stroke="#444" stroke-width="0.8" stroke-linecap="butt"/>
<line x1="657.42" y1="2260.30" x2="657.42" y2="2262.50" stroke="#444" stroke-width="0.8" stroke-linecap="butt"/>
<line x1="666.09" y1="2260.30" x2="666.09" y2="2262.50" stroke="#444" stroke-width="0.8" stroke-linecap="butt"/>
<line x1="673.17" y1="2260.30" x2="673.17" y2="2262.50" stroke="#444" stroke-width="0.8" stroke-linecap="butt"/>
<line x1="679.15" y1="2260.30" x2="679.15" y2="2262.50" stroke="#444" stroke-width="0.8" stroke-linecap="butt"/>
<line x1="684.34" y1="2260.30" x2="684.34" y2="2262.50" stroke="#444" stroke-width="0.8" stroke-linecap="butt"/>
<line x1="688.91" y1="2260.30" x2="688.91" y2="2262.50" stroke="#444" stroke-width="0.8" stroke-linecap="butt"/>
<line x1="693.00" y1="2260.30" x2="693.00" y2="2264.80" stroke="#222" stroke-width="1.2" stroke-linecap="butt"/>
<line x1="719.91" y1="2260.30" x2="719.91" y2="2262.50" stroke="#444" stroke-width="0.8" stroke-linecap="butt"/>
<line x1="735.65" y1="2260.30" x2="735.65" y2="2262.50" stroke="#444" stroke-width="0.8" stroke-linecap="butt"/>
<line x1="746.82" y1="2260.30" x2="746.82" y2="2262.50" stroke="#444" stroke-width="0.8" stroke-linecap="butt"/>
<line x1="755.49" y1="2260.30" x2="755.49" y2="2262.50" stroke="#444" stroke-width="0.8" stroke-linecap="butt"/>
<line x1="762.57" y1="2260.30" x2="762.57" y2="2262.50" stroke="#444" stroke-width="0.8" stroke-linecap="butt"/>
<line x1="768.55" y1="2260.30" x2="768.55" y2="2262.50" stroke="#444" stroke-width="0.8" stroke-linecap="butt"/>
<line x1="773.74" y1="2260.30" x2="773.74" y2="2262.50" stroke="#444" stroke-width="0.8" stroke-linecap="butt"/>
<line x1="778.31" y1="2260.30" x2="778.31" y2="2262.50" stroke="#444" stroke-width="0.8" stroke-linecap="butt"/>
<line x1="782.40" y1="2260.30" x2="782.40" y2="2264.80" stroke="#222" stroke-width="1.2" stroke-linecap="butt"/>
<line x1="809.31" y1="2260.30" x2="809.31" y2="2262.50" stroke="#444" stroke-width="0.8" stroke-linecap="butt"/>
<text transform="translate(337.13 2280.58) scale(0.7232 1)" font-family='"DejaVu Sans", sans-serif' font-weight="bold" font-size="14.39" fill="#111">10</text>
<text transform="translate(351.22 2273.61) scale(0.7809 1)" font-family='"DejaVu Sans", sans-serif' font-weight="bold" font-size="12.81" fill="#111">0</text>
<text transform="translate(419.73 2280.58) scale(0.7232 1)" font-family='"DejaVu Sans", sans-serif' font-weight="bold" font-size="14.39" fill="#111">10</text>
<text transform="translate(432.99 2273.80) scale(0.8768 1)" font-family='"DejaVu Sans", sans-serif' font-weight="bold" font-size="13.29" fill="#111">1</text>
<text transform="translate(510.03 2280.58) scale(0.7232 1)" font-family='"DejaVu Sans", sans-serif' font-weight="bold" font-size="14.39" fill="#111">10</text>
<text transform="translate(523.69 2273.80) scale(0.8666 1)" font-family='"DejaVu Sans", sans-serif' font-weight="bold" font-size="13.06" fill="#111">2</text>
<text transform="translate(599.63 2280.58) scale(0.7232 1)" font-family='"DejaVu Sans", sans-serif' font-weight="bold" font-size="14.39" fill="#111">10</text>
<text transform="translate(613.46 2273.61) scale(0.8519 1)" font-family='"DejaVu Sans", sans-serif' font-weight="bold" font-size="12.81" fill="#111">3</text>
<text transform="translate(689.33 2280.58) scale(0.7232 1)" font-family='"DejaVu Sans", sans-serif' font-weight="bold" font-size="14.39" fill="#111">10</text>
<text transform="translate(703.45 2273.80) scale(0.7464 1)" font-family='"DejaVu Sans", sans-serif' font-weight="bold" font-size="13.29" fill="#111">4</text>
<text transform="translate(778.93 2280.58) scale(0.7232 1)" font-family='"DejaVu Sans", sans-serif' font-weight="bold" font-size="14.39" fill="#111">10</text>
<text transform="translate(792.65 2273.60) scale(0.8417 1)" font-family='"DejaVu Sans", sans-serif' font-weight="bold" font-size="13.02" fill="#111">5</text>
<text transform="translate(556.51 2286.34) scale(0.9621 1)" font-family='"Liberation Sans", sans-serif' font-weight="normal" font-size="6.22" fill="#666">B1-A :: FITC-A</text>
<text transform="translate(354.29 2317.00) scale(0.9450 1)" font-family='"Liberation Sans", sans-serif' font-weight="bold" font-size="32.58" fill="#000">TfR1</text>
<path d="M432.7 2302.0 L779.4 2302.0 L779.4 2293.4 L806.0 2307.4 L779.4 2321.4 L779.4 2312.8 L432.7 2312.8Z" fill="#000"/>
<line x1="840.60" y1="1849.80" x2="840.60" y2="2278.70" stroke="#000" stroke-width="3.2" stroke-linecap="butt"/>
<line x1="903.70" y1="1849.80" x2="903.70" y2="2278.70" stroke="#000" stroke-width="3.2" stroke-linecap="butt"/>
<line x1="967.40" y1="1849.80" x2="967.40" y2="2278.70" stroke="#000" stroke-width="3.2" stroke-linecap="butt"/>
<line x1="1030.80" y1="1849.80" x2="1030.80" y2="2278.70" stroke="#000" stroke-width="3.2" stroke-linecap="butt"/>
<line x1="1094.50" y1="1849.80" x2="1094.50" y2="2278.70" stroke="#000" stroke-width="3.2" stroke-linecap="butt"/>
<line x1="839.00" y1="1851.40" x2="1096.10" y2="1851.40" stroke="#000" stroke-width="3.2" stroke-linecap="butt"/>
<line x1="839.00" y1="1958.50" x2="1096.10" y2="1958.50" stroke="#000" stroke-width="3.2" stroke-linecap="butt"/>
<line x1="839.00" y1="2064.20" x2="1096.10" y2="2064.20" stroke="#000" stroke-width="3.2" stroke-linecap="butt"/>
<line x1="839.00" y1="2172.00" x2="1096.10" y2="2172.00" stroke="#000" stroke-width="3.2" stroke-linecap="butt"/>
<line x1="839.00" y1="2277.10" x2="1096.10" y2="2277.10" stroke="#000" stroke-width="3.2" stroke-linecap="butt"/>
<line x1="1123.90" y1="1850.40" x2="1123.90" y2="2279.30" stroke="#000" stroke-width="3.2" stroke-linecap="butt"/>
<line x1="1217.00" y1="1850.40" x2="1217.00" y2="2279.30" stroke="#000" stroke-width="3.2" stroke-linecap="butt"/>
<line x1="1122.30" y1="1852.00" x2="1218.60" y2="1852.00" stroke="#000" stroke-width="3.2" stroke-linecap="butt"/>
<line x1="1122.30" y1="1958.50" x2="1218.60" y2="1958.50" stroke="#000" stroke-width="3.2" stroke-linecap="butt"/>
<line x1="1122.30" y1="2065.40" x2="1218.60" y2="2065.40" stroke="#000" stroke-width="3.2" stroke-linecap="butt"/>
<line x1="1122.30" y1="2173.40" x2="1218.60" y2="2173.40" stroke="#000" stroke-width="3.2" stroke-linecap="butt"/>
<line x1="1122.30" y1="2277.70" x2="1218.60" y2="2277.70" stroke="#000" stroke-width="3.2" stroke-linecap="butt"/>
<text transform="translate(856.96 1645.49) rotate(90) scale(0.9592 1)" font-family='"Liberation Sans", sans-serif' font-weight="bold" font-size="25.99" fill="#000">tet-MUC1shRNA</text>
<text transform="translate(928.50 1629.99) rotate(90) scale(0.9785 1)" font-family='"Liberation Sans", sans-serif' font-weight="bold" font-size="25.16" fill="#000">tet-Flag-MUC1-CD</text>
<text transform="translate(987.85 1788.14) rotate(90) scale(0.9167 1)" font-family='"Liberation Sans", sans-serif' font-weight="bold" font-size="25.16" fill="#000">DOX</text>
<text transform="translate(1049.87 1796.36) rotate(90) scale(0.7839 1)" font-family='"Liberation Sans", sans-serif' font-weight="bold" font-size="27.42" fill="#000">SAL</text>
<text transform="translate(1129.60 1829.00) scale(1.1343 1)" font-family='"Liberation Sans", sans-serif' font-weight="bold" font-size="22.11" fill="#000">gMFI</text>
<text transform="translate(858.45 1919.68) scale(1.0200 1)" font-family='"Liberation Sans", sans-serif' font-weight="bold" font-size="33.33" fill="#000">+</text>
<text transform="translate(927.86 1918.30) scale(1.2447 1)" font-family='"Liberation Sans", sans-serif' font-weight="bold" font-size="35.00" fill="#000">-</text>
<text transform="translate(985.35 1919.68) scale(1.0200 1)" font-family='"Liberation Sans", sans-serif' font-weight="bold" font-size="33.33" fill="#000">+</text>
<text transform="translate(1049.36 1917.38) scale(1.0200 1)" font-family='"Liberation Sans", sans-serif' font-weight="bold" font-size="33.33" fill="#000">+</text>
<text transform="translate(860.55 2029.78) scale(1.0200 1)" font-family='"Liberation Sans", sans-serif' font-weight="bold" font-size="33.33" fill="#000">+</text>
<text transform="translate(927.26 2026.90) scale(1.2447 1)" font-family='"Liberation Sans", sans-serif' font-weight="bold" font-size="35.00" fill="#000">-</text>
<text transform="translate(987.05 2029.78) scale(1.0200 1)" font-family='"Liberation Sans", sans-serif' font-weight="bold" font-size="33.33" fill="#000">+</text>
<text transform="translate(1052.96 2026.90) scale(1.2447 1)" font-family='"Liberation Sans", sans-serif' font-weight="bold" font-size="35.00" fill="#000">-</text>
<text transform="translate(862.85 2128.78) scale(1.0200 1)" font-family='"Liberation Sans", sans-serif' font-weight="bold" font-size="33.33" fill="#000">+</text>
<text transform="translate(926.05 2128.78) scale(1.0200 1)" font-family='"Liberation Sans", sans-serif' font-weight="bold" font-size="33.33" fill="#000">+</text>
<text transform="translate(988.25 2128.78) scale(1.0200 1)" font-family='"Liberation Sans", sans-serif' font-weight="bold" font-size="33.33" fill="#000">+</text>
<text transform="translate(1052.86 2128.78) scale(1.0200 1)" font-family='"Liberation Sans", sans-serif' font-weight="bold" font-size="33.33" fill="#000">+</text>
<text transform="translate(862.85 2236.48) scale(1.0200 1)" font-family='"Liberation Sans", sans-serif' font-weight="bold" font-size="33.33" fill="#000">+</text>
<text transform="translate(926.05 2236.48) scale(1.0200 1)" font-family='"Liberation Sans", sans-serif' font-weight="bold" font-size="33.33" fill="#000">+</text>
<text transform="translate(989.15 2236.48) scale(1.0200 1)" font-family='"Liberation Sans", sans-serif' font-weight="bold" font-size="33.33" fill="#000">+</text>
<text transform="translate(1055.86 2235.40) scale(1.2447 1)" font-family='"Liberation Sans", sans-serif' font-weight="bold" font-size="35.00" fill="#000">-</text>
<text transform="translate(1136.43 1914.81) scale(1.1003 1)" font-family='"Liberation Sans", sans-serif' font-weight="bold" font-size="22.82" fill="#000">10534</text>
<text transform="translate(1139.02 2021.37) scale(1.1226 1)" font-family='"Liberation Sans", sans-serif' font-weight="bold" font-size="22.76" fill="#000">4476</text>
<text transform="translate(1145.34 2131.21) scale(1.0954 1)" font-family='"Liberation Sans", sans-serif' font-weight="bold" font-size="22.82" fill="#000">3631</text>
<text transform="translate(1144.91 2234.87) scale(1.1133 1)" font-family='"Liberation Sans", sans-serif' font-weight="bold" font-size="22.90" fill="#000">1568</text>
<line x1="1105.50" y1="1256.30" x2="1105.50" y2="1377.40" stroke="#000" stroke-width="2.2" stroke-linecap="butt"/>
<line x1="1190.20" y1="1256.30" x2="1190.20" y2="1377.40" stroke="#000" stroke-width="2.2" stroke-linecap="butt"/>
<line x1="1272.40" y1="1256.30" x2="1272.40" y2="1377.40" stroke="#000" stroke-width="2.2" stroke-linecap="butt"/>
<line x1="1353.10" y1="1256.30" x2="1353.10" y2="1377.40" stroke="#000" stroke-width="2.2" stroke-linecap="butt"/>
<line x1="1104.40" y1="1257.40" x2="1354.20" y2="1257.40" stroke="#000" stroke-width="2.2" stroke-linecap="butt"/>
<line x1="1104.40" y1="1297.00" x2="1354.20" y2="1297.00" stroke="#000" stroke-width="2.2" stroke-linecap="butt"/>
<line x1="1104.40" y1="1337.20" x2="1354.20" y2="1337.20" stroke="#000" stroke-width="2.2" stroke-linecap="butt"/>
<line x1="1104.40" y1="1376.30" x2="1354.20" y2="1376.30" stroke="#000" stroke-width="2.2" stroke-linecap="butt"/>
<text transform="translate(1142.52 1288.18) scale(1.0200 1)" font-family='"Liberation Sans", sans-serif' font-weight="bold" font-size="29.41" fill="#000">+</text>
<text transform="translate(1220.82 1288.18) scale(1.0200 1)" font-family='"Liberation Sans", sans-serif' font-weight="bold" font-size="29.41" fill="#000">+</text>
<text transform="translate(1302.12 1288.18) scale(1.0200 1)" font-family='"Liberation Sans", sans-serif' font-weight="bold" font-size="29.41" fill="#000">+</text>
<text transform="translate(1145.05 1327.80) scale(1.2541 1)" font-family='"Liberation Sans", sans-serif' font-weight="bold" font-size="30.00" fill="#000">-</text>
<text transform="translate(1225.45 1327.80) scale(1.2541 1)" font-family='"Liberation Sans", sans-serif' font-weight="bold" font-size="30.00" fill="#000">-</text>
<text transform="translate(1302.12 1328.08) scale(1.0200 1)" font-family='"Liberation Sans", sans-serif' font-weight="bold" font-size="29.41" fill="#000">+</text>
<text transform="translate(1144.15 1367.50) scale(1.2541 1)" font-family='"Liberation Sans", sans-serif' font-weight="bold" font-size="30.00" fill="#000">-</text>
<text transform="translate(1222.92 1368.58) scale(1.0200 1)" font-family='"Liberation Sans", sans-serif' font-weight="bold" font-size="29.41" fill="#000">+</text>
<text transform="translate(1301.22 1368.58) scale(1.0200 1)" font-family='"Liberation Sans", sans-serif' font-weight="bold" font-size="29.41" fill="#000">+</text>
<text transform="translate(1365.39 1285.50) scale(1.0049 1)" font-family='"Liberation Sans", sans-serif' font-weight="bold" font-size="24.73" fill="#000">tet-MUC1shRNA</text>
<text transform="translate(1367.59 1323.40) scale(1.0429 1)" font-family='"Liberation Sans", sans-serif' font-weight="bold" font-size="23.42" fill="#000">tet-Flag-MUC1-CD</text>
<text transform="translate(1367.02 1362.60) scale(0.9279 1)" font-family='"Liberation Sans", sans-serif' font-weight="bold" font-size="25.16" fill="#000">DOX</text>
<text transform="translate(1039.61 1370.14) scale(0.9161 1)" font-family='"Liberation Sans", sans-serif' font-weight="bold" font-size="26.39" fill="#000">kDa</text>
<text transform="translate(1069.63 1439.88) scale(1.0060 1)" font-family='"Liberation Sans", sans-serif' font-weight="bold" font-size="21.77" fill="#000">25-</text>
<text transform="translate(1069.00 1520.39) scale(1.0676 1)" font-family='"Liberation Sans", sans-serif' font-weight="bold" font-size="20.93" fill="#000">15-</text>
<text transform="translate(1067.78 1611.03) scale(1.0705 1)" font-family='"Liberation Sans", sans-serif' font-weight="bold" font-size="21.69" fill="#000">37-</text>
<line x1="1359.20" y1="1435.40" x2="1391.10" y2="1435.40" stroke="#000" stroke-width="2.7" stroke-linecap="butt"/>
<path d="M1354.2 1435.4 L1364.7 1430.1 L1363.0 1435.4 L1364.7 1440.7Z" fill="#000"/>
<line x1="1359.20" y1="1496.20" x2="1391.10" y2="1496.20" stroke="#000" stroke-width="2.7" stroke-linecap="butt"/>
<path d="M1354.2 1496.2 L1364.7 1490.9 L1363.0 1496.2 L1364.7 1501.5Z" fill="#000"/>
<line x1="1359.20" y1="1587.40" x2="1391.10" y2="1587.40" stroke="#000" stroke-width="2.7" stroke-linecap="butt"/>
<path d="M1354.2 1587.4 L1364.7 1582.1 L1363.0 1587.4 L1364.7 1592.7Z" fill="#000"/>
<text transform="translate(1402.44 1445.20) scale(0.9806 1)" font-family='"Liberation Sans", sans-serif' font-weight="bold" font-size="25.02" fill="#000">MUC1-C</text>
<text transform="translate(1402.48 1504.60) scale(0.9948 1)" font-family='"Liberation Sans", sans-serif' font-weight="bold" font-size="24.15" fill="#000">Flag-MUC1-CD</text>
<text transform="translate(1401.13 1596.00) scale(1.0211 1)" font-family='"Liberation Sans", sans-serif' font-weight="bold" font-size="24.83" fill="#000">β actin</text>
<defs>
<filter id="bl3" x="-30%" y="-60%" width="160%" height="220%"><feGaussianBlur stdDeviation="2.4"/></filter>
<filter id="bl5" x="-30%" y="-80%" width="160%" height="260%"><feGaussianBlur stdDeviation="4"/></filter>
<filter id="bl2" x="-30%" y="-60%" width="160%" height="220%"><feGaussianBlur stdDeviation="1.5"/></filter>
<filter id="bl1" x="-30%" y="-60%" width="160%" height="220%"><feGaussianBlur stdDeviation="0.9"/></filter>
<filter id="noise" x="0" y="0" width="100%" height="100%"><feTurbulence type="fractalNoise" baseFrequency="0.07" numOctaves="3" seed="7" result="n"/><feColorMatrix in="n" type="matrix" values="0 0 0 0 0  0 0 0 0 0  0 0 0 0 0  0.7 0.5 0 0 -0.42"/></filter>
<clipPath id="c1"><rect x="1106.7" y="1387.3" width="247.3" height="151.2"/></clipPath>
<clipPath id="c2"><rect x="1105.5" y="1547.8" width="248.7" height="80.8"/></clipPath>
</defs>
<g clip-path="url(#c1)">
<rect x="1106.70" y="1387.30" width="247.30" height="151.20" fill="#d0d0d0" stroke="none" stroke-width="1" />
<rect x="1106.7" y="1387.3" width="247.3" height="151.2" fill="#000" filter="url(#noise)" opacity="0.28"/>
<rect x="1130" y="1425" width="48" height="28" rx="6" fill="#878787" filter="url(#bl5)"/>
<rect x="1131" y="1427" width="14" height="14" rx="5" fill="#8a8a8a" filter="url(#bl3)" opacity="0.6"/>
<rect x="1129.5" y="1444.5" width="49" height="9.5" rx="4" fill="#5e5e5e" filter="url(#bl3)"/>
<path d="M1123 1500 Q1150 1493 1181 1496" stroke="#9a9a9a" stroke-width="7.5" fill="none" stroke-linecap="round" filter="url(#bl3)"/>
<rect x="1273" y="1481" width="69" height="24" rx="12" fill="#000" filter="url(#bl3)"/>
<rect x="1276" y="1484" width="63" height="18" rx="9" fill="#000" filter="url(#bl1)"/>
</g>
<g clip-path="url(#c2)">
<rect x="1105.50" y="1547.80" width="248.70" height="80.80" fill="#dddddd" stroke="none" stroke-width="1" />
<rect x="1105.5" y="1547.8" width="248.7" height="80.8" fill="#000" filter="url(#noise)" opacity="0.2"/>
<rect x="1108" y="1570" width="244" height="33" rx="16" fill="#a8a8a8" filter="url(#bl5)"/>
<rect x="1184" y="1580" width="16" height="13" fill="#777" filter="url(#bl3)"/>
<rect x="1262" y="1580" width="16" height="13" fill="#777" filter="url(#bl3)"/>
<rect x="1116.5" y="1577" width="71.5" height="19" rx="9.5" fill="#000" filter="url(#bl2)"/>
<rect x="1118.5" y="1579" width="67.5" height="15" rx="7.5" fill="#000" filter="url(#bl1)"/>
<rect x="1196.5" y="1577" width="69.5" height="19" rx="9.5" fill="#000" filter="url(#bl2)"/>
<rect x="1198.5" y="1579" width="65.5" height="15" rx="7.5" fill="#000" filter="url(#bl1)"/>
<rect x="1274.5" y="1577" width="71.0" height="19" rx="9.5" fill="#000" filter="url(#bl2)"/>
<rect x="1276.5" y="1579" width="67.0" height="15" rx="7.5" fill="#000" filter="url(#bl1)"/>
</g>
</svg></body></html>
